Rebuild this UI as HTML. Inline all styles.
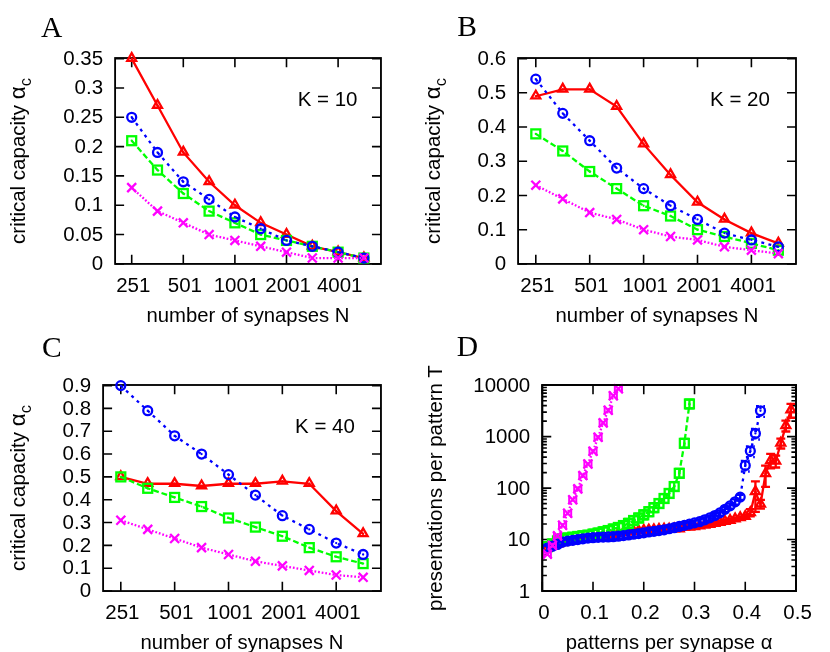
<!DOCTYPE html>
<html><head><meta charset="utf-8"><title>Figure</title>
<style>html,body{margin:0;padding:0;background:#fff}svg{display:block}</style></head>
<body><svg width="830" height="652" viewBox="0 0 830 652">
<rect x="0" y="0" width="830" height="652" fill="#fff"/>
<g opacity="0.999">
<rect x="115.10" y="58.03" width="265.86" height="205.90" fill="none" stroke="#000" stroke-width="1.85"/>
<path d="M131.70 263.93L131.70 254.73M131.70 58.03L131.70 67.23M183.30 263.93L183.30 254.73M183.30 58.03L183.30 67.23M234.90 263.93L234.90 254.73M234.90 58.03L234.90 67.23M286.50 263.93L286.50 254.73M286.50 58.03L286.50 67.23M338.10 263.93L338.10 254.73M338.10 58.03L338.10 67.23M115.10 263.90L124.10 263.90M380.96 263.90L371.96 263.90M115.10 234.57L124.10 234.57M380.96 234.57L371.96 234.57M115.10 205.24L124.10 205.24M380.96 205.24L371.96 205.24M115.10 175.91L124.10 175.91M380.96 175.91L371.96 175.91M115.10 146.59L124.10 146.59M380.96 146.59L371.96 146.59M115.10 117.26L124.10 117.26M380.96 117.26L371.96 117.26M115.10 87.93L124.10 87.93M380.96 87.93L371.96 87.93M115.10 58.60L124.10 58.60M380.96 58.60L371.96 58.60" stroke="#000" stroke-width="1.6" fill="none"/>
<path d="M131.70 58.60L157.50 105.53L183.30 152.45L209.10 181.78L234.90 205.24L260.70 222.84L286.50 234.57L312.30 246.30L338.10 252.17L363.90 258.03" stroke="#ff0000" stroke-width="2.3" fill="none" stroke-linejoin="miter"/>
<path d="M131.70 53.06L127.23 60.83L136.17 60.83Z" stroke="#ff0000" stroke-width="2.3" fill="none" stroke-linejoin="miter"/><circle cx="131.70" cy="58.60" r="1.15" fill="#ff0000"/>
<path d="M157.50 99.98L153.03 107.76L161.97 107.76Z" stroke="#ff0000" stroke-width="2.3" fill="none" stroke-linejoin="miter"/><circle cx="157.50" cy="105.53" r="1.15" fill="#ff0000"/>
<path d="M183.30 146.91L178.83 154.69L187.77 154.69Z" stroke="#ff0000" stroke-width="2.3" fill="none" stroke-linejoin="miter"/><circle cx="183.30" cy="152.45" r="1.15" fill="#ff0000"/>
<path d="M209.10 176.24L204.63 184.01L213.57 184.01Z" stroke="#ff0000" stroke-width="2.3" fill="none" stroke-linejoin="miter"/><circle cx="209.10" cy="181.78" r="1.15" fill="#ff0000"/>
<path d="M234.90 199.70L230.43 207.48L239.37 207.48Z" stroke="#ff0000" stroke-width="2.3" fill="none" stroke-linejoin="miter"/><circle cx="234.90" cy="205.24" r="1.15" fill="#ff0000"/>
<path d="M260.70 217.30L256.23 225.07L265.17 225.07Z" stroke="#ff0000" stroke-width="2.3" fill="none" stroke-linejoin="miter"/><circle cx="260.70" cy="222.84" r="1.15" fill="#ff0000"/>
<path d="M286.50 229.03L282.03 236.81L290.97 236.81Z" stroke="#ff0000" stroke-width="2.3" fill="none" stroke-linejoin="miter"/><circle cx="286.50" cy="234.57" r="1.15" fill="#ff0000"/>
<path d="M312.30 240.76L307.83 248.54L316.77 248.54Z" stroke="#ff0000" stroke-width="2.3" fill="none" stroke-linejoin="miter"/><circle cx="312.30" cy="246.30" r="1.15" fill="#ff0000"/>
<path d="M338.10 246.63L333.63 254.40L342.57 254.40Z" stroke="#ff0000" stroke-width="2.3" fill="none" stroke-linejoin="miter"/><circle cx="338.10" cy="252.17" r="1.15" fill="#ff0000"/>
<path d="M363.90 252.49L359.43 260.27L368.37 260.27Z" stroke="#ff0000" stroke-width="2.3" fill="none" stroke-linejoin="miter"/><circle cx="363.90" cy="258.03" r="1.15" fill="#ff0000"/>
<path d="M131.70 140.72L157.50 170.05L183.30 193.51L209.10 211.11L234.90 222.84L260.70 234.57L286.50 240.44L312.30 246.30L338.10 252.17L363.90 258.03" stroke="#00ff00" stroke-width="2.3" fill="none" stroke-dasharray="5.84 2.92" stroke-linejoin="miter"/>
<rect x="127.23" y="136.25" width="8.94" height="8.94" stroke="#00ff00" stroke-width="2.3" fill="none"/><circle cx="131.70" cy="140.72" r="1.15" fill="#00ff00"/>
<rect x="153.03" y="165.58" width="8.94" height="8.94" stroke="#00ff00" stroke-width="2.3" fill="none"/><circle cx="157.50" cy="170.05" r="1.15" fill="#00ff00"/>
<rect x="178.83" y="189.04" width="8.94" height="8.94" stroke="#00ff00" stroke-width="2.3" fill="none"/><circle cx="183.30" cy="193.51" r="1.15" fill="#00ff00"/>
<rect x="204.63" y="206.64" width="8.94" height="8.94" stroke="#00ff00" stroke-width="2.3" fill="none"/><circle cx="209.10" cy="211.11" r="1.15" fill="#00ff00"/>
<rect x="230.43" y="218.37" width="8.94" height="8.94" stroke="#00ff00" stroke-width="2.3" fill="none"/><circle cx="234.90" cy="222.84" r="1.15" fill="#00ff00"/>
<rect x="256.23" y="230.10" width="8.94" height="8.94" stroke="#00ff00" stroke-width="2.3" fill="none"/><circle cx="260.70" cy="234.57" r="1.15" fill="#00ff00"/>
<rect x="282.03" y="235.97" width="8.94" height="8.94" stroke="#00ff00" stroke-width="2.3" fill="none"/><circle cx="286.50" cy="240.44" r="1.15" fill="#00ff00"/>
<rect x="307.83" y="241.83" width="8.94" height="8.94" stroke="#00ff00" stroke-width="2.3" fill="none"/><circle cx="312.30" cy="246.30" r="1.15" fill="#00ff00"/>
<rect x="333.63" y="247.70" width="8.94" height="8.94" stroke="#00ff00" stroke-width="2.3" fill="none"/><circle cx="338.10" cy="252.17" r="1.15" fill="#00ff00"/>
<rect x="359.43" y="253.56" width="8.94" height="8.94" stroke="#00ff00" stroke-width="2.3" fill="none"/><circle cx="363.90" cy="258.03" r="1.15" fill="#00ff00"/>
<path d="M131.70 117.26L157.50 152.45L183.30 181.78L209.10 199.38L234.90 216.97L260.70 228.71L286.50 240.44L312.30 246.30L338.10 252.17L363.90 258.03" stroke="#0000ff" stroke-width="2.3" fill="none" stroke-dasharray="2.92 4.38" stroke-linejoin="miter"/>
<circle cx="131.70" cy="117.26" r="4.47" stroke="#0000ff" stroke-width="2.3" fill="none"/><circle cx="131.70" cy="117.26" r="1.15" fill="#0000ff"/>
<circle cx="157.50" cy="152.45" r="4.47" stroke="#0000ff" stroke-width="2.3" fill="none"/><circle cx="157.50" cy="152.45" r="1.15" fill="#0000ff"/>
<circle cx="183.30" cy="181.78" r="4.47" stroke="#0000ff" stroke-width="2.3" fill="none"/><circle cx="183.30" cy="181.78" r="1.15" fill="#0000ff"/>
<circle cx="209.10" cy="199.38" r="4.47" stroke="#0000ff" stroke-width="2.3" fill="none"/><circle cx="209.10" cy="199.38" r="1.15" fill="#0000ff"/>
<circle cx="234.90" cy="216.97" r="4.47" stroke="#0000ff" stroke-width="2.3" fill="none"/><circle cx="234.90" cy="216.97" r="1.15" fill="#0000ff"/>
<circle cx="260.70" cy="228.71" r="4.47" stroke="#0000ff" stroke-width="2.3" fill="none"/><circle cx="260.70" cy="228.71" r="1.15" fill="#0000ff"/>
<circle cx="286.50" cy="240.44" r="4.47" stroke="#0000ff" stroke-width="2.3" fill="none"/><circle cx="286.50" cy="240.44" r="1.15" fill="#0000ff"/>
<circle cx="312.30" cy="246.30" r="4.47" stroke="#0000ff" stroke-width="2.3" fill="none"/><circle cx="312.30" cy="246.30" r="1.15" fill="#0000ff"/>
<circle cx="338.10" cy="252.17" r="4.47" stroke="#0000ff" stroke-width="2.3" fill="none"/><circle cx="338.10" cy="252.17" r="1.15" fill="#0000ff"/>
<circle cx="363.90" cy="258.03" r="4.47" stroke="#0000ff" stroke-width="2.3" fill="none"/><circle cx="363.90" cy="258.03" r="1.15" fill="#0000ff"/>
<path d="M131.70 187.65L157.50 211.11L183.30 222.84L209.10 234.57L234.90 240.44L260.70 246.30L286.50 252.17L312.30 258.03L338.10 258.03L363.90 258.03" stroke="#ff00ff" stroke-width="2.3" fill="none" stroke-dasharray="1.75 1.90" stroke-linejoin="miter"/>
<path d="M127.23 183.18L136.17 192.12M127.23 192.12L136.17 183.18" stroke="#ff00ff" stroke-width="2.3" fill="none"/>
<path d="M153.03 206.64L161.97 215.58M153.03 215.58L161.97 206.64" stroke="#ff00ff" stroke-width="2.3" fill="none"/>
<path d="M178.83 218.37L187.77 227.31M178.83 227.31L187.77 218.37" stroke="#ff00ff" stroke-width="2.3" fill="none"/>
<path d="M204.63 230.10L213.57 239.04M204.63 239.04L213.57 230.10" stroke="#ff00ff" stroke-width="2.3" fill="none"/>
<path d="M230.43 235.97L239.37 244.91M230.43 244.91L239.37 235.97" stroke="#ff00ff" stroke-width="2.3" fill="none"/>
<path d="M256.23 241.83L265.17 250.77M256.23 250.77L265.17 241.83" stroke="#ff00ff" stroke-width="2.3" fill="none"/>
<path d="M282.03 247.70L290.97 256.64M282.03 256.64L290.97 247.70" stroke="#ff00ff" stroke-width="2.3" fill="none"/>
<path d="M307.83 253.56L316.77 262.50M307.83 262.50L316.77 253.56" stroke="#ff00ff" stroke-width="2.3" fill="none"/>
<path d="M333.63 253.56L342.57 262.50M333.63 262.50L342.57 253.56" stroke="#ff00ff" stroke-width="2.3" fill="none"/>
<path d="M359.43 253.56L368.37 262.50M359.43 262.50L368.37 253.56" stroke="#ff00ff" stroke-width="2.3" fill="none"/>
<text x="133.30" y="291.53" text-anchor="middle" font-family="Liberation Sans, sans-serif" font-size="20.5" fill="#000">251</text>
<text x="184.90" y="291.53" text-anchor="middle" font-family="Liberation Sans, sans-serif" font-size="20.5" fill="#000">501</text>
<text x="236.50" y="291.53" text-anchor="middle" font-family="Liberation Sans, sans-serif" font-size="20.5" fill="#000">1001</text>
<text x="288.10" y="291.53" text-anchor="middle" font-family="Liberation Sans, sans-serif" font-size="20.5" fill="#000">2001</text>
<text x="339.70" y="291.53" text-anchor="middle" font-family="Liberation Sans, sans-serif" font-size="20.5" fill="#000">4001</text>
<text x="103.10" y="270.10" text-anchor="end" font-family="Liberation Sans, sans-serif" font-size="20.5" fill="#000">0</text>
<text x="103.10" y="240.77" text-anchor="end" font-family="Liberation Sans, sans-serif" font-size="20.5" fill="#000">0.05</text>
<text x="103.10" y="211.44" text-anchor="end" font-family="Liberation Sans, sans-serif" font-size="20.5" fill="#000">0.1</text>
<text x="103.10" y="182.11" text-anchor="end" font-family="Liberation Sans, sans-serif" font-size="20.5" fill="#000">0.15</text>
<text x="103.10" y="152.79" text-anchor="end" font-family="Liberation Sans, sans-serif" font-size="20.5" fill="#000">0.2</text>
<text x="103.10" y="123.46" text-anchor="end" font-family="Liberation Sans, sans-serif" font-size="20.5" fill="#000">0.25</text>
<text x="103.10" y="94.13" text-anchor="end" font-family="Liberation Sans, sans-serif" font-size="20.5" fill="#000">0.3</text>
<text x="103.10" y="64.80" text-anchor="end" font-family="Liberation Sans, sans-serif" font-size="20.5" fill="#000">0.35</text>
<text x="248.03" y="321.93" text-anchor="middle" font-family="Liberation Sans, sans-serif" font-size="20.3" fill="#000">number of synapses N</text>
<text transform="translate(24.80 160.98) rotate(-90)" text-anchor="middle" font-family="Liberation Sans, sans-serif" font-size="20.5" fill="#000">critical capacity <tspan font-size="22.5">&#945;</tspan><tspan font-size="16.4" dy="6.4">c</tspan></text>
<text x="327.60" y="106.00" text-anchor="middle" font-family="Liberation Sans, sans-serif" font-size="20.5" fill="#000">K = 10</text>
<text x="41.00" y="36.50" text-anchor="start" font-family="Liberation Serif, sans-serif" font-size="29.5" fill="#000">A</text>
<rect x="518.08" y="58.03" width="277.91" height="205.90" fill="none" stroke="#000" stroke-width="1.85"/>
<path d="M535.80 263.93L535.80 254.73M535.80 58.03L535.80 67.23M589.70 263.93L589.70 254.73M589.70 58.03L589.70 67.23M643.60 263.93L643.60 254.73M643.60 58.03L643.60 67.23M697.50 263.93L697.50 254.73M697.50 58.03L697.50 67.23M751.40 263.93L751.40 254.73M751.40 58.03L751.40 67.23M518.08 263.90L527.08 263.90M795.99 263.90L786.99 263.90M518.08 229.68L527.08 229.68M795.99 229.68L786.99 229.68M518.08 195.47L527.08 195.47M795.99 195.47L786.99 195.47M518.08 161.25L527.08 161.25M795.99 161.25L786.99 161.25M518.08 127.03L527.08 127.03M795.99 127.03L786.99 127.03M518.08 92.82L527.08 92.82M795.99 92.82L786.99 92.82M518.08 58.60L527.08 58.60M795.99 58.60L786.99 58.60" stroke="#000" stroke-width="1.6" fill="none"/>
<path d="M535.80 96.24L562.75 89.39L589.70 89.39L616.65 106.50L643.60 144.14L670.55 174.94L697.50 202.31L724.45 219.42L751.40 233.10L778.35 243.37" stroke="#ff0000" stroke-width="2.3" fill="none" stroke-linejoin="miter"/>
<path d="M535.80 90.70L531.33 98.47L540.27 98.47Z" stroke="#ff0000" stroke-width="2.3" fill="none" stroke-linejoin="miter"/><circle cx="535.80" cy="96.24" r="1.15" fill="#ff0000"/>
<path d="M562.75 83.85L558.28 91.63L567.22 91.63Z" stroke="#ff0000" stroke-width="2.3" fill="none" stroke-linejoin="miter"/><circle cx="562.75" cy="89.39" r="1.15" fill="#ff0000"/>
<path d="M589.70 83.85L585.23 91.63L594.17 91.63Z" stroke="#ff0000" stroke-width="2.3" fill="none" stroke-linejoin="miter"/><circle cx="589.70" cy="89.39" r="1.15" fill="#ff0000"/>
<path d="M616.65 100.96L612.18 108.74L621.12 108.74Z" stroke="#ff0000" stroke-width="2.3" fill="none" stroke-linejoin="miter"/><circle cx="616.65" cy="106.50" r="1.15" fill="#ff0000"/>
<path d="M643.60 138.60L639.13 146.38L648.07 146.38Z" stroke="#ff0000" stroke-width="2.3" fill="none" stroke-linejoin="miter"/><circle cx="643.60" cy="144.14" r="1.15" fill="#ff0000"/>
<path d="M670.55 169.39L666.08 177.17L675.02 177.17Z" stroke="#ff0000" stroke-width="2.3" fill="none" stroke-linejoin="miter"/><circle cx="670.55" cy="174.94" r="1.15" fill="#ff0000"/>
<path d="M697.50 196.77L693.03 204.55L701.97 204.55Z" stroke="#ff0000" stroke-width="2.3" fill="none" stroke-linejoin="miter"/><circle cx="697.50" cy="202.31" r="1.15" fill="#ff0000"/>
<path d="M724.45 213.88L719.98 221.65L728.92 221.65Z" stroke="#ff0000" stroke-width="2.3" fill="none" stroke-linejoin="miter"/><circle cx="724.45" cy="219.42" r="1.15" fill="#ff0000"/>
<path d="M751.40 227.56L746.93 235.34L755.87 235.34Z" stroke="#ff0000" stroke-width="2.3" fill="none" stroke-linejoin="miter"/><circle cx="751.40" cy="233.10" r="1.15" fill="#ff0000"/>
<path d="M778.35 237.83L773.88 245.60L782.82 245.60Z" stroke="#ff0000" stroke-width="2.3" fill="none" stroke-linejoin="miter"/><circle cx="778.35" cy="243.37" r="1.15" fill="#ff0000"/>
<path d="M535.80 133.88L562.75 150.98L589.70 171.51L616.65 188.62L643.60 205.73L670.55 216.00L697.50 229.68L724.45 236.53L751.40 243.37L778.35 250.21" stroke="#00ff00" stroke-width="2.3" fill="none" stroke-dasharray="5.84 2.92" stroke-linejoin="miter"/>
<rect x="531.33" y="129.41" width="8.94" height="8.94" stroke="#00ff00" stroke-width="2.3" fill="none"/><circle cx="535.80" cy="133.88" r="1.15" fill="#00ff00"/>
<rect x="558.28" y="146.51" width="8.94" height="8.94" stroke="#00ff00" stroke-width="2.3" fill="none"/><circle cx="562.75" cy="150.98" r="1.15" fill="#00ff00"/>
<rect x="585.23" y="167.04" width="8.94" height="8.94" stroke="#00ff00" stroke-width="2.3" fill="none"/><circle cx="589.70" cy="171.51" r="1.15" fill="#00ff00"/>
<rect x="612.18" y="184.15" width="8.94" height="8.94" stroke="#00ff00" stroke-width="2.3" fill="none"/><circle cx="616.65" cy="188.62" r="1.15" fill="#00ff00"/>
<rect x="639.13" y="201.26" width="8.94" height="8.94" stroke="#00ff00" stroke-width="2.3" fill="none"/><circle cx="643.60" cy="205.73" r="1.15" fill="#00ff00"/>
<rect x="666.08" y="211.53" width="8.94" height="8.94" stroke="#00ff00" stroke-width="2.3" fill="none"/><circle cx="670.55" cy="216.00" r="1.15" fill="#00ff00"/>
<rect x="693.03" y="225.21" width="8.94" height="8.94" stroke="#00ff00" stroke-width="2.3" fill="none"/><circle cx="697.50" cy="229.68" r="1.15" fill="#00ff00"/>
<rect x="719.98" y="232.06" width="8.94" height="8.94" stroke="#00ff00" stroke-width="2.3" fill="none"/><circle cx="724.45" cy="236.53" r="1.15" fill="#00ff00"/>
<rect x="746.93" y="238.90" width="8.94" height="8.94" stroke="#00ff00" stroke-width="2.3" fill="none"/><circle cx="751.40" cy="243.37" r="1.15" fill="#00ff00"/>
<rect x="773.88" y="245.74" width="8.94" height="8.94" stroke="#00ff00" stroke-width="2.3" fill="none"/><circle cx="778.35" cy="250.21" r="1.15" fill="#00ff00"/>
<path d="M535.80 79.13L562.75 113.35L589.70 140.72L616.65 168.09L643.60 188.62L670.55 205.73L697.50 219.42L724.45 233.10L751.40 239.95L778.35 246.79" stroke="#0000ff" stroke-width="2.3" fill="none" stroke-dasharray="2.92 4.38" stroke-linejoin="miter"/>
<circle cx="535.80" cy="79.13" r="4.47" stroke="#0000ff" stroke-width="2.3" fill="none"/><circle cx="535.80" cy="79.13" r="1.15" fill="#0000ff"/>
<circle cx="562.75" cy="113.35" r="4.47" stroke="#0000ff" stroke-width="2.3" fill="none"/><circle cx="562.75" cy="113.35" r="1.15" fill="#0000ff"/>
<circle cx="589.70" cy="140.72" r="4.47" stroke="#0000ff" stroke-width="2.3" fill="none"/><circle cx="589.70" cy="140.72" r="1.15" fill="#0000ff"/>
<circle cx="616.65" cy="168.09" r="4.47" stroke="#0000ff" stroke-width="2.3" fill="none"/><circle cx="616.65" cy="168.09" r="1.15" fill="#0000ff"/>
<circle cx="643.60" cy="188.62" r="4.47" stroke="#0000ff" stroke-width="2.3" fill="none"/><circle cx="643.60" cy="188.62" r="1.15" fill="#0000ff"/>
<circle cx="670.55" cy="205.73" r="4.47" stroke="#0000ff" stroke-width="2.3" fill="none"/><circle cx="670.55" cy="205.73" r="1.15" fill="#0000ff"/>
<circle cx="697.50" cy="219.42" r="4.47" stroke="#0000ff" stroke-width="2.3" fill="none"/><circle cx="697.50" cy="219.42" r="1.15" fill="#0000ff"/>
<circle cx="724.45" cy="233.10" r="4.47" stroke="#0000ff" stroke-width="2.3" fill="none"/><circle cx="724.45" cy="233.10" r="1.15" fill="#0000ff"/>
<circle cx="751.40" cy="239.95" r="4.47" stroke="#0000ff" stroke-width="2.3" fill="none"/><circle cx="751.40" cy="239.95" r="1.15" fill="#0000ff"/>
<circle cx="778.35" cy="246.79" r="4.47" stroke="#0000ff" stroke-width="2.3" fill="none"/><circle cx="778.35" cy="246.79" r="1.15" fill="#0000ff"/>
<path d="M535.80 185.20L562.75 198.89L589.70 212.57L616.65 219.42L643.60 229.68L670.55 236.53L697.50 239.95L724.45 246.79L751.40 250.21L778.35 253.63" stroke="#ff00ff" stroke-width="2.3" fill="none" stroke-dasharray="1.75 1.90" stroke-linejoin="miter"/>
<path d="M531.33 180.73L540.27 189.67M531.33 189.67L540.27 180.73" stroke="#ff00ff" stroke-width="2.3" fill="none"/>
<path d="M558.28 194.42L567.22 203.36M558.28 203.36L567.22 194.42" stroke="#ff00ff" stroke-width="2.3" fill="none"/>
<path d="M585.23 208.10L594.17 217.04M585.23 217.04L594.17 208.10" stroke="#ff00ff" stroke-width="2.3" fill="none"/>
<path d="M612.18 214.95L621.12 223.89M612.18 223.89L621.12 214.95" stroke="#ff00ff" stroke-width="2.3" fill="none"/>
<path d="M639.13 225.21L648.07 234.15M639.13 234.15L648.07 225.21" stroke="#ff00ff" stroke-width="2.3" fill="none"/>
<path d="M666.08 232.06L675.02 241.00M666.08 241.00L675.02 232.06" stroke="#ff00ff" stroke-width="2.3" fill="none"/>
<path d="M693.03 235.48L701.97 244.42M693.03 244.42L701.97 235.48" stroke="#ff00ff" stroke-width="2.3" fill="none"/>
<path d="M719.98 242.32L728.92 251.26M719.98 251.26L728.92 242.32" stroke="#ff00ff" stroke-width="2.3" fill="none"/>
<path d="M746.93 245.74L755.87 254.68M746.93 254.68L755.87 245.74" stroke="#ff00ff" stroke-width="2.3" fill="none"/>
<path d="M773.88 249.16L782.82 258.11M773.88 258.11L782.82 249.16" stroke="#ff00ff" stroke-width="2.3" fill="none"/>
<text x="537.40" y="291.53" text-anchor="middle" font-family="Liberation Sans, sans-serif" font-size="20.5" fill="#000">251</text>
<text x="591.30" y="291.53" text-anchor="middle" font-family="Liberation Sans, sans-serif" font-size="20.5" fill="#000">501</text>
<text x="645.20" y="291.53" text-anchor="middle" font-family="Liberation Sans, sans-serif" font-size="20.5" fill="#000">1001</text>
<text x="699.10" y="291.53" text-anchor="middle" font-family="Liberation Sans, sans-serif" font-size="20.5" fill="#000">2001</text>
<text x="753.00" y="291.53" text-anchor="middle" font-family="Liberation Sans, sans-serif" font-size="20.5" fill="#000">4001</text>
<text x="506.08" y="270.10" text-anchor="end" font-family="Liberation Sans, sans-serif" font-size="20.5" fill="#000">0</text>
<text x="506.08" y="235.88" text-anchor="end" font-family="Liberation Sans, sans-serif" font-size="20.5" fill="#000">0.1</text>
<text x="506.08" y="201.67" text-anchor="end" font-family="Liberation Sans, sans-serif" font-size="20.5" fill="#000">0.2</text>
<text x="506.08" y="167.45" text-anchor="end" font-family="Liberation Sans, sans-serif" font-size="20.5" fill="#000">0.3</text>
<text x="506.08" y="133.23" text-anchor="end" font-family="Liberation Sans, sans-serif" font-size="20.5" fill="#000">0.4</text>
<text x="506.08" y="99.02" text-anchor="end" font-family="Liberation Sans, sans-serif" font-size="20.5" fill="#000">0.5</text>
<text x="506.08" y="64.80" text-anchor="end" font-family="Liberation Sans, sans-serif" font-size="20.5" fill="#000">0.6</text>
<text x="657.04" y="321.93" text-anchor="middle" font-family="Liberation Sans, sans-serif" font-size="20.3" fill="#000">number of synapses N</text>
<text transform="translate(440.00 160.98) rotate(-90)" text-anchor="middle" font-family="Liberation Sans, sans-serif" font-size="20.5" fill="#000">critical capacity <tspan font-size="22.5">&#945;</tspan><tspan font-size="16.4" dy="6.4">c</tspan></text>
<text x="740.00" y="106.00" text-anchor="middle" font-family="Liberation Sans, sans-serif" font-size="20.5" fill="#000">K = 20</text>
<text x="457.30" y="36.20" text-anchor="start" font-family="Liberation Serif, sans-serif" font-size="29.5" fill="#000">B</text>
<rect x="103.10" y="385.00" width="277.86" height="206.05" fill="none" stroke="#000" stroke-width="1.85"/>
<path d="M120.80 591.05L120.80 581.85M120.80 385.00L120.80 394.20M174.65 591.05L174.65 581.85M174.65 385.00L174.65 394.20M228.50 591.05L228.50 581.85M228.50 385.00L228.50 394.20M282.35 591.05L282.35 581.85M282.35 385.00L282.35 394.20M336.20 591.05L336.20 581.85M336.20 385.00L336.20 394.20M103.10 591.00L112.10 591.00M380.96 591.00L371.96 591.00M103.10 568.18L112.10 568.18M380.96 568.18L371.96 568.18M103.10 545.36L112.10 545.36M380.96 545.36L371.96 545.36M103.10 522.53L112.10 522.53M380.96 522.53L371.96 522.53M103.10 499.71L112.10 499.71M380.96 499.71L371.96 499.71M103.10 476.89L112.10 476.89M380.96 476.89L371.96 476.89M103.10 454.07L112.10 454.07M380.96 454.07L371.96 454.07M103.10 431.24L112.10 431.24M380.96 431.24L371.96 431.24M103.10 408.42L112.10 408.42M380.96 408.42L371.96 408.42M103.10 385.60L112.10 385.60M380.96 385.60L371.96 385.60" stroke="#000" stroke-width="1.6" fill="none"/>
<path d="M120.80 476.89L147.72 483.74L174.65 483.74L201.57 486.02L228.50 483.74L255.43 483.74L282.35 481.45L309.27 483.74L336.20 511.12L363.12 533.94" stroke="#ff0000" stroke-width="2.3" fill="none" stroke-linejoin="miter"/>
<path d="M120.80 471.35L116.33 479.12L125.27 479.12Z" stroke="#ff0000" stroke-width="2.3" fill="none" stroke-linejoin="miter"/><circle cx="120.80" cy="476.89" r="1.15" fill="#ff0000"/>
<path d="M147.72 478.19L143.25 485.97L152.19 485.97Z" stroke="#ff0000" stroke-width="2.3" fill="none" stroke-linejoin="miter"/><circle cx="147.72" cy="483.74" r="1.15" fill="#ff0000"/>
<path d="M174.65 478.19L170.18 485.97L179.12 485.97Z" stroke="#ff0000" stroke-width="2.3" fill="none" stroke-linejoin="miter"/><circle cx="174.65" cy="483.74" r="1.15" fill="#ff0000"/>
<path d="M201.57 480.47L197.10 488.25L206.04 488.25Z" stroke="#ff0000" stroke-width="2.3" fill="none" stroke-linejoin="miter"/><circle cx="201.57" cy="486.02" r="1.15" fill="#ff0000"/>
<path d="M228.50 478.19L224.03 485.97L232.97 485.97Z" stroke="#ff0000" stroke-width="2.3" fill="none" stroke-linejoin="miter"/><circle cx="228.50" cy="483.74" r="1.15" fill="#ff0000"/>
<path d="M255.43 478.19L250.96 485.97L259.90 485.97Z" stroke="#ff0000" stroke-width="2.3" fill="none" stroke-linejoin="miter"/><circle cx="255.43" cy="483.74" r="1.15" fill="#ff0000"/>
<path d="M282.35 475.91L277.88 483.69L286.82 483.69Z" stroke="#ff0000" stroke-width="2.3" fill="none" stroke-linejoin="miter"/><circle cx="282.35" cy="481.45" r="1.15" fill="#ff0000"/>
<path d="M309.27 478.19L304.80 485.97L313.75 485.97Z" stroke="#ff0000" stroke-width="2.3" fill="none" stroke-linejoin="miter"/><circle cx="309.27" cy="483.74" r="1.15" fill="#ff0000"/>
<path d="M336.20 505.58L331.73 513.36L340.67 513.36Z" stroke="#ff0000" stroke-width="2.3" fill="none" stroke-linejoin="miter"/><circle cx="336.20" cy="511.12" r="1.15" fill="#ff0000"/>
<path d="M363.12 528.40L358.65 536.18L367.60 536.18Z" stroke="#ff0000" stroke-width="2.3" fill="none" stroke-linejoin="miter"/><circle cx="363.12" cy="533.94" r="1.15" fill="#ff0000"/>
<path d="M120.80 476.89L147.72 488.30L174.65 497.43L201.57 506.56L228.50 517.97L255.43 527.10L282.35 536.23L309.27 547.64L336.20 556.77L363.12 563.61" stroke="#00ff00" stroke-width="2.3" fill="none" stroke-dasharray="5.84 2.92" stroke-linejoin="miter"/>
<rect x="116.33" y="472.42" width="8.94" height="8.94" stroke="#00ff00" stroke-width="2.3" fill="none"/><circle cx="120.80" cy="476.89" r="1.15" fill="#00ff00"/>
<rect x="143.25" y="483.83" width="8.94" height="8.94" stroke="#00ff00" stroke-width="2.3" fill="none"/><circle cx="147.72" cy="488.30" r="1.15" fill="#00ff00"/>
<rect x="170.18" y="492.96" width="8.94" height="8.94" stroke="#00ff00" stroke-width="2.3" fill="none"/><circle cx="174.65" cy="497.43" r="1.15" fill="#00ff00"/>
<rect x="197.10" y="502.09" width="8.94" height="8.94" stroke="#00ff00" stroke-width="2.3" fill="none"/><circle cx="201.57" cy="506.56" r="1.15" fill="#00ff00"/>
<rect x="224.03" y="513.50" width="8.94" height="8.94" stroke="#00ff00" stroke-width="2.3" fill="none"/><circle cx="228.50" cy="517.97" r="1.15" fill="#00ff00"/>
<rect x="250.96" y="522.63" width="8.94" height="8.94" stroke="#00ff00" stroke-width="2.3" fill="none"/><circle cx="255.43" cy="527.10" r="1.15" fill="#00ff00"/>
<rect x="277.88" y="531.76" width="8.94" height="8.94" stroke="#00ff00" stroke-width="2.3" fill="none"/><circle cx="282.35" cy="536.23" r="1.15" fill="#00ff00"/>
<rect x="304.80" y="543.17" width="8.94" height="8.94" stroke="#00ff00" stroke-width="2.3" fill="none"/><circle cx="309.27" cy="547.64" r="1.15" fill="#00ff00"/>
<rect x="331.73" y="552.30" width="8.94" height="8.94" stroke="#00ff00" stroke-width="2.3" fill="none"/><circle cx="336.20" cy="556.77" r="1.15" fill="#00ff00"/>
<rect x="358.65" y="559.14" width="8.94" height="8.94" stroke="#00ff00" stroke-width="2.3" fill="none"/><circle cx="363.12" cy="563.61" r="1.15" fill="#00ff00"/>
<path d="M120.80 385.60L147.72 410.70L174.65 435.81L201.57 454.07L228.50 474.61L255.43 495.15L282.35 515.69L309.27 529.38L336.20 543.07L363.12 554.48" stroke="#0000ff" stroke-width="2.3" fill="none" stroke-dasharray="2.92 4.38" stroke-linejoin="miter"/>
<circle cx="120.80" cy="385.60" r="4.47" stroke="#0000ff" stroke-width="2.3" fill="none"/><circle cx="120.80" cy="385.60" r="1.15" fill="#0000ff"/>
<circle cx="147.72" cy="410.70" r="4.47" stroke="#0000ff" stroke-width="2.3" fill="none"/><circle cx="147.72" cy="410.70" r="1.15" fill="#0000ff"/>
<circle cx="174.65" cy="435.81" r="4.47" stroke="#0000ff" stroke-width="2.3" fill="none"/><circle cx="174.65" cy="435.81" r="1.15" fill="#0000ff"/>
<circle cx="201.57" cy="454.07" r="4.47" stroke="#0000ff" stroke-width="2.3" fill="none"/><circle cx="201.57" cy="454.07" r="1.15" fill="#0000ff"/>
<circle cx="228.50" cy="474.61" r="4.47" stroke="#0000ff" stroke-width="2.3" fill="none"/><circle cx="228.50" cy="474.61" r="1.15" fill="#0000ff"/>
<circle cx="255.43" cy="495.15" r="4.47" stroke="#0000ff" stroke-width="2.3" fill="none"/><circle cx="255.43" cy="495.15" r="1.15" fill="#0000ff"/>
<circle cx="282.35" cy="515.69" r="4.47" stroke="#0000ff" stroke-width="2.3" fill="none"/><circle cx="282.35" cy="515.69" r="1.15" fill="#0000ff"/>
<circle cx="309.27" cy="529.38" r="4.47" stroke="#0000ff" stroke-width="2.3" fill="none"/><circle cx="309.27" cy="529.38" r="1.15" fill="#0000ff"/>
<circle cx="336.20" cy="543.07" r="4.47" stroke="#0000ff" stroke-width="2.3" fill="none"/><circle cx="336.20" cy="543.07" r="1.15" fill="#0000ff"/>
<circle cx="363.12" cy="554.48" r="4.47" stroke="#0000ff" stroke-width="2.3" fill="none"/><circle cx="363.12" cy="554.48" r="1.15" fill="#0000ff"/>
<path d="M120.80 520.25L147.72 529.38L174.65 538.51L201.57 547.64L228.50 554.48L255.43 561.33L282.35 565.90L309.27 570.46L336.20 575.02L363.12 577.31" stroke="#ff00ff" stroke-width="2.3" fill="none" stroke-dasharray="1.75 1.90" stroke-linejoin="miter"/>
<path d="M116.33 515.78L125.27 524.72M116.33 524.72L125.27 515.78" stroke="#ff00ff" stroke-width="2.3" fill="none"/>
<path d="M143.25 524.91L152.19 533.85M143.25 533.85L152.19 524.91" stroke="#ff00ff" stroke-width="2.3" fill="none"/>
<path d="M170.18 534.04L179.12 542.98M170.18 542.98L179.12 534.04" stroke="#ff00ff" stroke-width="2.3" fill="none"/>
<path d="M197.10 543.17L206.04 552.11M197.10 552.11L206.04 543.17" stroke="#ff00ff" stroke-width="2.3" fill="none"/>
<path d="M224.03 550.01L232.97 558.95M224.03 558.95L232.97 550.01" stroke="#ff00ff" stroke-width="2.3" fill="none"/>
<path d="M250.96 556.86L259.90 565.80M250.96 565.80L259.90 556.86" stroke="#ff00ff" stroke-width="2.3" fill="none"/>
<path d="M277.88 561.43L286.82 570.37M277.88 570.37L286.82 561.43" stroke="#ff00ff" stroke-width="2.3" fill="none"/>
<path d="M304.80 565.99L313.75 574.93M304.80 574.93L313.75 565.99" stroke="#ff00ff" stroke-width="2.3" fill="none"/>
<path d="M331.73 570.55L340.67 579.49M331.73 579.49L340.67 570.55" stroke="#ff00ff" stroke-width="2.3" fill="none"/>
<path d="M358.65 572.84L367.60 581.78M358.65 581.78L367.60 572.84" stroke="#ff00ff" stroke-width="2.3" fill="none"/>
<text x="122.40" y="618.65" text-anchor="middle" font-family="Liberation Sans, sans-serif" font-size="20.5" fill="#000">251</text>
<text x="176.25" y="618.65" text-anchor="middle" font-family="Liberation Sans, sans-serif" font-size="20.5" fill="#000">501</text>
<text x="230.10" y="618.65" text-anchor="middle" font-family="Liberation Sans, sans-serif" font-size="20.5" fill="#000">1001</text>
<text x="283.95" y="618.65" text-anchor="middle" font-family="Liberation Sans, sans-serif" font-size="20.5" fill="#000">2001</text>
<text x="337.80" y="618.65" text-anchor="middle" font-family="Liberation Sans, sans-serif" font-size="20.5" fill="#000">4001</text>
<text x="91.10" y="597.20" text-anchor="end" font-family="Liberation Sans, sans-serif" font-size="20.5" fill="#000">0</text>
<text x="91.10" y="574.38" text-anchor="end" font-family="Liberation Sans, sans-serif" font-size="20.5" fill="#000">0.1</text>
<text x="91.10" y="551.56" text-anchor="end" font-family="Liberation Sans, sans-serif" font-size="20.5" fill="#000">0.2</text>
<text x="91.10" y="528.73" text-anchor="end" font-family="Liberation Sans, sans-serif" font-size="20.5" fill="#000">0.3</text>
<text x="91.10" y="505.91" text-anchor="end" font-family="Liberation Sans, sans-serif" font-size="20.5" fill="#000">0.4</text>
<text x="91.10" y="483.09" text-anchor="end" font-family="Liberation Sans, sans-serif" font-size="20.5" fill="#000">0.5</text>
<text x="91.10" y="460.27" text-anchor="end" font-family="Liberation Sans, sans-serif" font-size="20.5" fill="#000">0.6</text>
<text x="91.10" y="437.44" text-anchor="end" font-family="Liberation Sans, sans-serif" font-size="20.5" fill="#000">0.7</text>
<text x="91.10" y="414.62" text-anchor="end" font-family="Liberation Sans, sans-serif" font-size="20.5" fill="#000">0.8</text>
<text x="91.10" y="391.80" text-anchor="end" font-family="Liberation Sans, sans-serif" font-size="20.5" fill="#000">0.9</text>
<text x="242.03" y="649.05" text-anchor="middle" font-family="Liberation Sans, sans-serif" font-size="20.3" fill="#000">number of synapses N</text>
<text transform="translate(24.80 488.02) rotate(-90)" text-anchor="middle" font-family="Liberation Sans, sans-serif" font-size="20.5" fill="#000">critical capacity <tspan font-size="22.5">&#945;</tspan><tspan font-size="16.4" dy="6.4">c</tspan></text>
<text x="325.00" y="433.00" text-anchor="middle" font-family="Liberation Sans, sans-serif" font-size="20.5" fill="#000">K = 40</text>
<text x="42.00" y="356.60" text-anchor="start" font-family="Liberation Serif, sans-serif" font-size="29.5" fill="#000">C</text>
<rect x="542.26" y="385.00" width="253.74" height="206.05" fill="none" stroke="#000" stroke-width="1.85"/>
<path d="M542.26 591.05L542.26 581.85M542.26 385.00L542.26 394.20M593.01 591.05L593.01 581.85M593.01 385.00L593.01 394.20M643.76 591.05L643.76 581.85M643.76 385.00L643.76 394.20M694.51 591.05L694.51 581.85M694.51 385.00L694.51 394.20M745.26 591.05L745.26 581.85M745.26 385.00L745.26 394.20M796.01 591.05L796.01 581.85M796.01 385.00L796.01 394.20M542.26 591.00L551.26 591.00M796.00 591.00L787.00 591.00M542.26 575.51L546.86 575.51M796.00 575.51L791.40 575.51M542.26 566.45L546.86 566.45M796.00 566.45L791.40 566.45M542.26 560.02L546.86 560.02M796.00 560.02L791.40 560.02M542.26 555.04L546.86 555.04M796.00 555.04L791.40 555.04M542.26 550.96L546.86 550.96M796.00 550.96L791.40 550.96M542.26 547.52L546.86 547.52M796.00 547.52L791.40 547.52M542.26 544.54L546.86 544.54M796.00 544.54L791.40 544.54M542.26 541.90L546.86 541.90M796.00 541.90L791.40 541.90M542.26 539.55L551.26 539.55M796.00 539.55L787.00 539.55M542.26 524.06L546.86 524.06M796.00 524.06L791.40 524.06M542.26 515.00L546.86 515.00M796.00 515.00L791.40 515.00M542.26 508.57L546.86 508.57M796.00 508.57L791.40 508.57M542.26 503.59L546.86 503.59M796.00 503.59L791.40 503.59M542.26 499.51L546.86 499.51M796.00 499.51L791.40 499.51M542.26 496.07L546.86 496.07M796.00 496.07L791.40 496.07M542.26 493.09L546.86 493.09M796.00 493.09L791.40 493.09M542.26 490.45L546.86 490.45M796.00 490.45L791.40 490.45M542.26 488.10L551.26 488.10M796.00 488.10L787.00 488.10M542.26 472.61L546.86 472.61M796.00 472.61L791.40 472.61M542.26 463.55L546.86 463.55M796.00 463.55L791.40 463.55M542.26 457.12L546.86 457.12M796.00 457.12L791.40 457.12M542.26 452.14L546.86 452.14M796.00 452.14L791.40 452.14M542.26 448.06L546.86 448.06M796.00 448.06L791.40 448.06M542.26 444.62L546.86 444.62M796.00 444.62L791.40 444.62M542.26 441.64L546.86 441.64M796.00 441.64L791.40 441.64M542.26 439.00L546.86 439.00M796.00 439.00L791.40 439.00M542.26 436.65L551.26 436.65M796.00 436.65L787.00 436.65M542.26 421.16L546.86 421.16M796.00 421.16L791.40 421.16M542.26 412.10L546.86 412.10M796.00 412.10L791.40 412.10M542.26 405.67L546.86 405.67M796.00 405.67L791.40 405.67M542.26 400.69L546.86 400.69M796.00 400.69L791.40 400.69M542.26 396.61L546.86 396.61M796.00 396.61L791.40 396.61M542.26 393.17L546.86 393.17M796.00 393.17L791.40 393.17M542.26 390.19L546.86 390.19M796.00 390.19L791.40 390.19M542.26 387.55L546.86 387.55M796.00 387.55L791.40 387.55M542.26 385.20L551.26 385.20M796.00 385.20L787.00 385.20" stroke="#000" stroke-width="1.6" fill="none"/>
<clipPath id="cd"><rect x="536.26" y="384.0" width="265.74" height="208.04999999999995"/></clipPath>
<g>
<path d="M547.34 548.61L552.41 546.50L557.49 544.44L562.56 542.89L567.63 541.87L572.71 540.84L577.78 539.81L582.86 539.04L587.93 538.26L593.01 537.49L598.09 536.72L603.16 536.21L608.24 535.43L613.31 534.66L618.38 533.58L623.46 532.81L628.53 532.30L633.61 531.52L638.68 531.01L643.76 530.49L648.84 530.24L653.91 529.98L658.99 529.72L664.06 529.47L669.13 529.36L674.21 529.21L679.28 529.05L684.36 527.61L689.43 527.36L694.51 526.94L699.59 526.17L704.66 525.40L709.74 524.63L714.81 523.60L719.88 522.57L724.96 521.54L730.03 520.51L735.11 519.23L740.18 517.94L745.26 516.65L750.34 512.80L755.41 491.86L760.49 504.26L765.56 473.85L770.63 460.83L775.71 461.35L780.78 443.34L785.86 425.95L790.93 410.20" stroke="#ff0000" stroke-width="2.3" fill="none" stroke-linejoin="miter"/>
<path d="M547.34 550.15L547.34 547.06M542.87 550.15L551.81 550.15M542.87 547.06L551.81 547.06" stroke="#ff0000" stroke-width="2.3" fill="none"/><path d="M547.34 543.06L542.87 550.84L551.81 550.84Z" stroke="#ff0000" stroke-width="2.3" fill="none" stroke-linejoin="miter"/><circle cx="547.34" cy="548.61" r="1.15" fill="#ff0000"/>
<path d="M552.41 548.04L552.41 544.95M547.94 548.04L556.88 548.04M547.94 544.95L556.88 544.95" stroke="#ff0000" stroke-width="2.3" fill="none"/><path d="M552.41 540.95L547.94 548.73L556.88 548.73Z" stroke="#ff0000" stroke-width="2.3" fill="none" stroke-linejoin="miter"/><circle cx="552.41" cy="546.50" r="1.15" fill="#ff0000"/>
<path d="M557.49 545.98L557.49 542.89M553.01 545.98L561.96 545.98M553.01 542.89L561.96 542.89" stroke="#ff0000" stroke-width="2.3" fill="none"/><path d="M557.49 538.89L553.01 546.67L561.96 546.67Z" stroke="#ff0000" stroke-width="2.3" fill="none" stroke-linejoin="miter"/><circle cx="557.49" cy="544.44" r="1.15" fill="#ff0000"/>
<path d="M562.56 544.44L562.56 541.35M558.09 544.44L567.03 544.44M558.09 541.35L567.03 541.35" stroke="#ff0000" stroke-width="2.3" fill="none"/><path d="M562.56 537.35L558.09 545.13L567.03 545.13Z" stroke="#ff0000" stroke-width="2.3" fill="none" stroke-linejoin="miter"/><circle cx="562.56" cy="542.89" r="1.15" fill="#ff0000"/>
<path d="M567.63 543.41L567.63 540.32M563.16 543.41L572.11 543.41M563.16 540.32L572.11 540.32" stroke="#ff0000" stroke-width="2.3" fill="none"/><path d="M567.63 536.32L563.16 544.10L572.11 544.10Z" stroke="#ff0000" stroke-width="2.3" fill="none" stroke-linejoin="miter"/><circle cx="567.63" cy="541.87" r="1.15" fill="#ff0000"/>
<path d="M572.71 542.38L572.71 539.29M568.24 542.38L577.18 542.38M568.24 539.29L577.18 539.29" stroke="#ff0000" stroke-width="2.3" fill="none"/><path d="M572.71 535.29L568.24 543.07L577.18 543.07Z" stroke="#ff0000" stroke-width="2.3" fill="none" stroke-linejoin="miter"/><circle cx="572.71" cy="540.84" r="1.15" fill="#ff0000"/>
<path d="M577.78 541.35L577.78 538.26M573.31 541.35L582.25 541.35M573.31 538.26L582.25 538.26" stroke="#ff0000" stroke-width="2.3" fill="none"/><path d="M577.78 534.26L573.31 542.04L582.25 542.04Z" stroke="#ff0000" stroke-width="2.3" fill="none" stroke-linejoin="miter"/><circle cx="577.78" cy="539.81" r="1.15" fill="#ff0000"/>
<path d="M582.86 540.58L582.86 537.49M578.39 540.58L587.33 540.58M578.39 537.49L587.33 537.49" stroke="#ff0000" stroke-width="2.3" fill="none"/><path d="M582.86 533.49L578.39 541.27L587.33 541.27Z" stroke="#ff0000" stroke-width="2.3" fill="none" stroke-linejoin="miter"/><circle cx="582.86" cy="539.04" r="1.15" fill="#ff0000"/>
<path d="M587.93 539.81L587.93 536.72M583.46 539.81L592.40 539.81M583.46 536.72L592.40 536.72" stroke="#ff0000" stroke-width="2.3" fill="none"/><path d="M587.93 532.72L583.46 540.50L592.40 540.50Z" stroke="#ff0000" stroke-width="2.3" fill="none" stroke-linejoin="miter"/><circle cx="587.93" cy="538.26" r="1.15" fill="#ff0000"/>
<path d="M593.01 539.04L593.01 535.95M588.54 539.04L597.48 539.04M588.54 535.95L597.48 535.95" stroke="#ff0000" stroke-width="2.3" fill="none"/><path d="M593.01 531.95L588.54 539.73L597.48 539.73Z" stroke="#ff0000" stroke-width="2.3" fill="none" stroke-linejoin="miter"/><circle cx="593.01" cy="537.49" r="1.15" fill="#ff0000"/>
<path d="M598.09 538.26L598.09 535.18M593.62 538.26L602.56 538.26M593.62 535.18L602.56 535.18" stroke="#ff0000" stroke-width="2.3" fill="none"/><path d="M598.09 531.18L593.62 538.96L602.56 538.96Z" stroke="#ff0000" stroke-width="2.3" fill="none" stroke-linejoin="miter"/><circle cx="598.09" cy="536.72" r="1.15" fill="#ff0000"/>
<path d="M603.16 537.75L603.16 534.66M598.69 537.75L607.63 537.75M598.69 534.66L607.63 534.66" stroke="#ff0000" stroke-width="2.3" fill="none"/><path d="M603.16 530.66L598.69 538.44L607.63 538.44Z" stroke="#ff0000" stroke-width="2.3" fill="none" stroke-linejoin="miter"/><circle cx="603.16" cy="536.21" r="1.15" fill="#ff0000"/>
<path d="M608.24 536.98L608.24 533.89M603.76 536.98L612.71 536.98M603.76 533.89L612.71 533.89" stroke="#ff0000" stroke-width="2.3" fill="none"/><path d="M608.24 529.89L603.76 537.67L612.71 537.67Z" stroke="#ff0000" stroke-width="2.3" fill="none" stroke-linejoin="miter"/><circle cx="608.24" cy="535.43" r="1.15" fill="#ff0000"/>
<path d="M613.31 536.21L613.31 533.12M608.84 536.21L617.78 536.21M608.84 533.12L617.78 533.12" stroke="#ff0000" stroke-width="2.3" fill="none"/><path d="M613.31 529.12L608.84 536.90L617.78 536.90Z" stroke="#ff0000" stroke-width="2.3" fill="none" stroke-linejoin="miter"/><circle cx="613.31" cy="534.66" r="1.15" fill="#ff0000"/>
<path d="M618.38 535.13L618.38 532.04M613.91 535.13L622.86 535.13M613.91 532.04L622.86 532.04" stroke="#ff0000" stroke-width="2.3" fill="none"/><path d="M618.38 528.04L613.91 535.82L622.86 535.82Z" stroke="#ff0000" stroke-width="2.3" fill="none" stroke-linejoin="miter"/><circle cx="618.38" cy="533.58" r="1.15" fill="#ff0000"/>
<path d="M623.46 534.35L623.46 531.27M618.99 534.35L627.93 534.35M618.99 531.27L627.93 531.27" stroke="#ff0000" stroke-width="2.3" fill="none"/><path d="M623.46 527.27L618.99 535.05L627.93 535.05Z" stroke="#ff0000" stroke-width="2.3" fill="none" stroke-linejoin="miter"/><circle cx="623.46" cy="532.81" r="1.15" fill="#ff0000"/>
<path d="M628.53 533.84L628.53 530.75M624.06 533.84L633.00 533.84M624.06 530.75L633.00 530.75" stroke="#ff0000" stroke-width="2.3" fill="none"/><path d="M628.53 526.75L624.06 534.53L633.00 534.53Z" stroke="#ff0000" stroke-width="2.3" fill="none" stroke-linejoin="miter"/><circle cx="628.53" cy="532.30" r="1.15" fill="#ff0000"/>
<path d="M633.61 533.07L633.61 529.98M629.14 533.07L638.08 533.07M629.14 529.98L638.08 529.98" stroke="#ff0000" stroke-width="2.3" fill="none"/><path d="M633.61 525.98L629.14 533.76L638.08 533.76Z" stroke="#ff0000" stroke-width="2.3" fill="none" stroke-linejoin="miter"/><circle cx="633.61" cy="531.52" r="1.15" fill="#ff0000"/>
<path d="M638.68 532.55L638.68 529.47M634.21 532.55L643.15 532.55M634.21 529.47L643.15 529.47" stroke="#ff0000" stroke-width="2.3" fill="none"/><path d="M638.68 525.47L634.21 533.24L643.15 533.24Z" stroke="#ff0000" stroke-width="2.3" fill="none" stroke-linejoin="miter"/><circle cx="638.68" cy="531.01" r="1.15" fill="#ff0000"/>
<path d="M643.76 532.04L643.76 528.95M639.29 532.04L648.23 532.04M639.29 528.95L648.23 528.95" stroke="#ff0000" stroke-width="2.3" fill="none"/><path d="M643.76 524.95L639.29 532.73L648.23 532.73Z" stroke="#ff0000" stroke-width="2.3" fill="none" stroke-linejoin="miter"/><circle cx="643.76" cy="530.49" r="1.15" fill="#ff0000"/>
<path d="M648.84 531.78L648.84 528.69M644.37 531.78L653.31 531.78M644.37 528.69L653.31 528.69" stroke="#ff0000" stroke-width="2.3" fill="none"/><path d="M648.84 524.69L644.37 532.47L653.31 532.47Z" stroke="#ff0000" stroke-width="2.3" fill="none" stroke-linejoin="miter"/><circle cx="648.84" cy="530.24" r="1.15" fill="#ff0000"/>
<path d="M653.91 531.52L653.91 528.44M649.44 531.52L658.38 531.52M649.44 528.44L658.38 528.44" stroke="#ff0000" stroke-width="2.3" fill="none"/><path d="M653.91 524.44L649.44 532.22L658.38 532.22Z" stroke="#ff0000" stroke-width="2.3" fill="none" stroke-linejoin="miter"/><circle cx="653.91" cy="529.98" r="1.15" fill="#ff0000"/>
<path d="M658.99 531.27L658.99 528.18M654.51 531.27L663.46 531.27M654.51 528.18L663.46 528.18" stroke="#ff0000" stroke-width="2.3" fill="none"/><path d="M658.99 524.18L654.51 531.96L663.46 531.96Z" stroke="#ff0000" stroke-width="2.3" fill="none" stroke-linejoin="miter"/><circle cx="658.99" cy="529.72" r="1.15" fill="#ff0000"/>
<path d="M664.06 531.01L664.06 527.92M659.59 531.01L668.53 531.01M659.59 527.92L668.53 527.92" stroke="#ff0000" stroke-width="2.3" fill="none"/><path d="M664.06 523.92L659.59 531.70L668.53 531.70Z" stroke="#ff0000" stroke-width="2.3" fill="none" stroke-linejoin="miter"/><circle cx="664.06" cy="529.47" r="1.15" fill="#ff0000"/>
<path d="M669.13 530.91L669.13 527.82M664.66 530.91L673.61 530.91M664.66 527.82L673.61 527.82" stroke="#ff0000" stroke-width="2.3" fill="none"/><path d="M669.13 523.82L664.66 531.60L673.61 531.60Z" stroke="#ff0000" stroke-width="2.3" fill="none" stroke-linejoin="miter"/><circle cx="669.13" cy="529.36" r="1.15" fill="#ff0000"/>
<path d="M674.21 530.75L674.21 527.67M669.74 530.75L678.68 530.75M669.74 527.67L678.68 527.67" stroke="#ff0000" stroke-width="2.3" fill="none"/><path d="M674.21 523.67L669.74 531.44L678.68 531.44Z" stroke="#ff0000" stroke-width="2.3" fill="none" stroke-linejoin="miter"/><circle cx="674.21" cy="529.21" r="1.15" fill="#ff0000"/>
<path d="M679.28 530.60L679.28 527.51M674.81 530.60L683.75 530.60M674.81 527.51L683.75 527.51" stroke="#ff0000" stroke-width="2.3" fill="none"/><path d="M679.28 523.51L674.81 531.29L683.75 531.29Z" stroke="#ff0000" stroke-width="2.3" fill="none" stroke-linejoin="miter"/><circle cx="679.28" cy="529.05" r="1.15" fill="#ff0000"/>
<path d="M684.36 529.16L684.36 526.07M679.89 529.16L688.83 529.16M679.89 526.07L688.83 526.07" stroke="#ff0000" stroke-width="2.3" fill="none"/><path d="M684.36 522.07L679.89 529.85L688.83 529.85Z" stroke="#ff0000" stroke-width="2.3" fill="none" stroke-linejoin="miter"/><circle cx="684.36" cy="527.61" r="1.15" fill="#ff0000"/>
<path d="M689.43 528.90L689.43 525.81M684.96 528.90L693.90 528.90M684.96 525.81L693.90 525.81" stroke="#ff0000" stroke-width="2.3" fill="none"/><path d="M689.43 521.81L684.96 529.59L693.90 529.59Z" stroke="#ff0000" stroke-width="2.3" fill="none" stroke-linejoin="miter"/><circle cx="689.43" cy="527.36" r="1.15" fill="#ff0000"/>
<path d="M694.51 528.49L694.51 525.40M690.04 528.49L698.98 528.49M690.04 525.40L698.98 525.40" stroke="#ff0000" stroke-width="2.3" fill="none"/><path d="M694.51 521.40L690.04 529.18L698.98 529.18Z" stroke="#ff0000" stroke-width="2.3" fill="none" stroke-linejoin="miter"/><circle cx="694.51" cy="526.94" r="1.15" fill="#ff0000"/>
<path d="M699.59 527.72L699.59 524.63M695.12 527.72L704.06 527.72M695.12 524.63L704.06 524.63" stroke="#ff0000" stroke-width="2.3" fill="none"/><path d="M699.59 520.63L695.12 528.41L704.06 528.41Z" stroke="#ff0000" stroke-width="2.3" fill="none" stroke-linejoin="miter"/><circle cx="699.59" cy="526.17" r="1.15" fill="#ff0000"/>
<path d="M704.66 526.94L704.66 523.86M700.19 526.94L709.13 526.94M700.19 523.86L709.13 523.86" stroke="#ff0000" stroke-width="2.3" fill="none"/><path d="M704.66 519.86L700.19 527.64L709.13 527.64Z" stroke="#ff0000" stroke-width="2.3" fill="none" stroke-linejoin="miter"/><circle cx="704.66" cy="525.40" r="1.15" fill="#ff0000"/>
<path d="M709.74 526.17L709.74 523.09M705.26 526.17L714.21 526.17M705.26 523.09L714.21 523.09" stroke="#ff0000" stroke-width="2.3" fill="none"/><path d="M709.74 519.09L705.26 526.86L714.21 526.86Z" stroke="#ff0000" stroke-width="2.3" fill="none" stroke-linejoin="miter"/><circle cx="709.74" cy="524.63" r="1.15" fill="#ff0000"/>
<path d="M714.81 525.14L714.81 522.06M710.34 525.14L719.28 525.14M710.34 522.06L719.28 522.06" stroke="#ff0000" stroke-width="2.3" fill="none"/><path d="M714.81 518.06L710.34 525.84L719.28 525.84Z" stroke="#ff0000" stroke-width="2.3" fill="none" stroke-linejoin="miter"/><circle cx="714.81" cy="523.60" r="1.15" fill="#ff0000"/>
<path d="M719.88 524.12L719.88 521.03M715.41 524.12L724.36 524.12M715.41 521.03L724.36 521.03" stroke="#ff0000" stroke-width="2.3" fill="none"/><path d="M719.88 517.03L715.41 524.81L724.36 524.81Z" stroke="#ff0000" stroke-width="2.3" fill="none" stroke-linejoin="miter"/><circle cx="719.88" cy="522.57" r="1.15" fill="#ff0000"/>
<path d="M724.96 523.09L724.96 520.00M720.49 523.09L729.43 523.09M720.49 520.00L729.43 520.00" stroke="#ff0000" stroke-width="2.3" fill="none"/><path d="M724.96 516.00L720.49 523.78L729.43 523.78Z" stroke="#ff0000" stroke-width="2.3" fill="none" stroke-linejoin="miter"/><circle cx="724.96" cy="521.54" r="1.15" fill="#ff0000"/>
<path d="M730.03 522.06L730.03 518.97M725.56 522.06L734.50 522.06M725.56 518.97L734.50 518.97" stroke="#ff0000" stroke-width="2.3" fill="none"/><path d="M730.03 514.97L725.56 522.75L734.50 522.75Z" stroke="#ff0000" stroke-width="2.3" fill="none" stroke-linejoin="miter"/><circle cx="730.03" cy="520.51" r="1.15" fill="#ff0000"/>
<path d="M735.11 520.77L735.11 517.68M730.64 520.77L739.58 520.77M730.64 517.68L739.58 517.68" stroke="#ff0000" stroke-width="2.3" fill="none"/><path d="M735.11 513.68L730.64 521.46L739.58 521.46Z" stroke="#ff0000" stroke-width="2.3" fill="none" stroke-linejoin="miter"/><circle cx="735.11" cy="519.23" r="1.15" fill="#ff0000"/>
<path d="M740.18 519.48L740.18 516.40M735.71 519.48L744.65 519.48M735.71 516.40L744.65 516.40" stroke="#ff0000" stroke-width="2.3" fill="none"/><path d="M740.18 512.40L735.71 520.18L744.65 520.18Z" stroke="#ff0000" stroke-width="2.3" fill="none" stroke-linejoin="miter"/><circle cx="740.18" cy="517.94" r="1.15" fill="#ff0000"/>
<path d="M745.26 518.20L745.26 515.11M740.79 518.20L749.73 518.20M740.79 515.11L749.73 515.11" stroke="#ff0000" stroke-width="2.3" fill="none"/><path d="M745.26 511.11L740.79 518.89L749.73 518.89Z" stroke="#ff0000" stroke-width="2.3" fill="none" stroke-linejoin="miter"/><circle cx="745.26" cy="516.65" r="1.15" fill="#ff0000"/>
<path d="M750.34 516.40L750.34 509.19M745.87 516.40L754.81 516.40M745.87 509.19L754.81 509.19" stroke="#ff0000" stroke-width="2.3" fill="none"/><path d="M750.34 507.25L745.87 515.03L754.81 515.03Z" stroke="#ff0000" stroke-width="2.3" fill="none" stroke-linejoin="miter"/><circle cx="750.34" cy="512.80" r="1.15" fill="#ff0000"/>
<path d="M755.41 511.87L755.41 481.46M750.94 511.87L759.88 511.87M750.94 481.46L759.88 481.46" stroke="#ff0000" stroke-width="2.3" fill="none"/><path d="M755.41 486.31L750.94 494.09L759.88 494.09Z" stroke="#ff0000" stroke-width="2.3" fill="none" stroke-linejoin="miter"/><circle cx="755.41" cy="491.86" r="1.15" fill="#ff0000"/>
<path d="M760.49 508.68L760.49 499.93M756.01 508.68L764.96 508.68M756.01 499.93L764.96 499.93" stroke="#ff0000" stroke-width="2.3" fill="none"/><path d="M760.49 498.71L756.01 506.49L764.96 506.49Z" stroke="#ff0000" stroke-width="2.3" fill="none" stroke-linejoin="miter"/><circle cx="760.49" cy="504.26" r="1.15" fill="#ff0000"/>
<path d="M765.56 486.97L765.56 465.56M761.09 486.97L770.03 486.97M761.09 465.56L770.03 465.56" stroke="#ff0000" stroke-width="2.3" fill="none"/><path d="M765.56 468.31L761.09 476.08L770.03 476.08Z" stroke="#ff0000" stroke-width="2.3" fill="none" stroke-linejoin="miter"/><circle cx="765.56" cy="473.85" r="1.15" fill="#ff0000"/>
<path d="M770.63 468.34L770.63 453.83M766.16 468.34L775.11 468.34M766.16 453.83L775.11 453.83" stroke="#ff0000" stroke-width="2.3" fill="none"/><path d="M770.63 455.29L766.16 463.07L775.11 463.07Z" stroke="#ff0000" stroke-width="2.3" fill="none" stroke-linejoin="miter"/><circle cx="770.63" cy="460.83" r="1.15" fill="#ff0000"/>
<path d="M775.71 467.52L775.71 455.69M771.24 467.52L780.18 467.52M771.24 455.69L780.18 455.69" stroke="#ff0000" stroke-width="2.3" fill="none"/><path d="M775.71 455.80L771.24 463.58L780.18 463.58Z" stroke="#ff0000" stroke-width="2.3" fill="none" stroke-linejoin="miter"/><circle cx="775.71" cy="461.35" r="1.15" fill="#ff0000"/>
<path d="M780.78 448.48L780.78 438.71M776.31 448.48L785.25 448.48M776.31 438.71L785.25 438.71" stroke="#ff0000" stroke-width="2.3" fill="none"/><path d="M780.78 437.80L776.31 445.57L785.25 445.57Z" stroke="#ff0000" stroke-width="2.3" fill="none" stroke-linejoin="miter"/><circle cx="780.78" cy="443.34" r="1.15" fill="#ff0000"/>
<path d="M785.86 431.50L785.86 420.70M781.39 431.50L790.33 431.50M781.39 420.70L790.33 420.70" stroke="#ff0000" stroke-width="2.3" fill="none"/><path d="M785.86 420.41L781.39 428.18L790.33 428.18Z" stroke="#ff0000" stroke-width="2.3" fill="none" stroke-linejoin="miter"/><circle cx="785.86" cy="425.95" r="1.15" fill="#ff0000"/>
<path d="M790.93 417.77L790.93 403.93M786.46 417.77L795.40 417.77M786.46 403.93L795.40 403.93" stroke="#ff0000" stroke-width="2.3" fill="none"/><path d="M790.93 404.66L786.46 412.44L795.40 412.44Z" stroke="#ff0000" stroke-width="2.3" fill="none" stroke-linejoin="miter"/><circle cx="790.93" cy="410.20" r="1.15" fill="#ff0000"/>
<path d="M547.34 546.70L552.41 543.97L557.49 540.89L562.56 538.88L567.63 538.01L572.71 537.23L577.78 536.46L582.86 535.85L587.93 535.18L593.01 534.15L598.09 533.12L603.16 531.83L608.24 530.55L613.31 529.05L618.38 527.46L623.46 525.56L628.53 523.39L633.61 520.51L638.68 517.99L643.76 514.85L648.84 511.72L653.91 507.65L658.99 503.53L664.06 498.49L669.13 493.45L674.21 486.56L679.28 473.33L684.36 443.34L689.43 403.93" stroke="#00ff00" stroke-width="2.3" fill="none" stroke-dasharray="5.84 2.92" stroke-linejoin="miter"/>
<path d="M547.34 551.07L547.34 542.33M542.87 551.07L551.81 551.07M542.87 542.33L551.81 542.33" stroke="#00ff00" stroke-width="2.3" fill="none"/><rect x="542.87" y="542.23" width="8.94" height="8.94" stroke="#00ff00" stroke-width="2.3" fill="none"/><circle cx="547.34" cy="546.70" r="1.15" fill="#00ff00"/>
<path d="M552.41 548.35L552.41 539.60M547.94 548.35L556.88 548.35M547.94 539.60L556.88 539.60" stroke="#00ff00" stroke-width="2.3" fill="none"/><rect x="547.94" y="539.50" width="8.94" height="8.94" stroke="#00ff00" stroke-width="2.3" fill="none"/><circle cx="552.41" cy="543.97" r="1.15" fill="#00ff00"/>
<path d="M557.49 545.26L557.49 536.51M553.01 545.26L561.96 545.26M553.01 536.51L561.96 536.51" stroke="#00ff00" stroke-width="2.3" fill="none"/><rect x="553.01" y="536.42" width="8.94" height="8.94" stroke="#00ff00" stroke-width="2.3" fill="none"/><circle cx="557.49" cy="540.89" r="1.15" fill="#00ff00"/>
<path d="M562.56 543.25L562.56 534.51M558.09 543.25L567.03 543.25M558.09 534.51L567.03 534.51" stroke="#00ff00" stroke-width="2.3" fill="none"/><rect x="558.09" y="534.41" width="8.94" height="8.94" stroke="#00ff00" stroke-width="2.3" fill="none"/><circle cx="562.56" cy="538.88" r="1.15" fill="#00ff00"/>
<path d="M567.63 542.38L567.63 533.63M563.16 542.38L572.11 542.38M563.16 533.63L572.11 533.63" stroke="#00ff00" stroke-width="2.3" fill="none"/><rect x="563.16" y="533.54" width="8.94" height="8.94" stroke="#00ff00" stroke-width="2.3" fill="none"/><circle cx="567.63" cy="538.01" r="1.15" fill="#00ff00"/>
<path d="M572.71 541.61L572.71 532.86M568.24 541.61L577.18 541.61M568.24 532.86L577.18 532.86" stroke="#00ff00" stroke-width="2.3" fill="none"/><rect x="568.24" y="532.76" width="8.94" height="8.94" stroke="#00ff00" stroke-width="2.3" fill="none"/><circle cx="572.71" cy="537.23" r="1.15" fill="#00ff00"/>
<path d="M577.78 540.84L577.78 532.09M573.31 540.84L582.25 540.84M573.31 532.09L582.25 532.09" stroke="#00ff00" stroke-width="2.3" fill="none"/><rect x="573.31" y="531.99" width="8.94" height="8.94" stroke="#00ff00" stroke-width="2.3" fill="none"/><circle cx="577.78" cy="536.46" r="1.15" fill="#00ff00"/>
<path d="M582.86 540.22L582.86 531.47M578.39 540.22L587.33 540.22M578.39 531.47L587.33 531.47" stroke="#00ff00" stroke-width="2.3" fill="none"/><rect x="578.39" y="531.38" width="8.94" height="8.94" stroke="#00ff00" stroke-width="2.3" fill="none"/><circle cx="582.86" cy="535.85" r="1.15" fill="#00ff00"/>
<path d="M587.93 539.55L587.93 530.80M583.46 539.55L592.40 539.55M583.46 530.80L592.40 530.80" stroke="#00ff00" stroke-width="2.3" fill="none"/><rect x="583.46" y="530.71" width="8.94" height="8.94" stroke="#00ff00" stroke-width="2.3" fill="none"/><circle cx="587.93" cy="535.18" r="1.15" fill="#00ff00"/>
<path d="M593.01 538.52L593.01 529.77M588.54 538.52L597.48 538.52M588.54 529.77L597.48 529.77" stroke="#00ff00" stroke-width="2.3" fill="none"/><rect x="588.54" y="529.68" width="8.94" height="8.94" stroke="#00ff00" stroke-width="2.3" fill="none"/><circle cx="593.01" cy="534.15" r="1.15" fill="#00ff00"/>
<path d="M598.09 537.49L598.09 528.75M593.62 537.49L602.56 537.49M593.62 528.75L602.56 528.75" stroke="#00ff00" stroke-width="2.3" fill="none"/><rect x="593.62" y="528.65" width="8.94" height="8.94" stroke="#00ff00" stroke-width="2.3" fill="none"/><circle cx="598.09" cy="533.12" r="1.15" fill="#00ff00"/>
<path d="M603.16 536.21L603.16 527.46M598.69 536.21L607.63 536.21M598.69 527.46L607.63 527.46" stroke="#00ff00" stroke-width="2.3" fill="none"/><rect x="598.69" y="527.36" width="8.94" height="8.94" stroke="#00ff00" stroke-width="2.3" fill="none"/><circle cx="603.16" cy="531.83" r="1.15" fill="#00ff00"/>
<path d="M608.24 534.92L608.24 526.17M603.76 534.92L612.71 534.92M603.76 526.17L612.71 526.17" stroke="#00ff00" stroke-width="2.3" fill="none"/><rect x="603.76" y="526.08" width="8.94" height="8.94" stroke="#00ff00" stroke-width="2.3" fill="none"/><circle cx="608.24" cy="530.55" r="1.15" fill="#00ff00"/>
<path d="M613.31 533.43L613.31 524.68M608.84 533.43L617.78 533.43M608.84 524.68L617.78 524.68" stroke="#00ff00" stroke-width="2.3" fill="none"/><rect x="608.84" y="524.58" width="8.94" height="8.94" stroke="#00ff00" stroke-width="2.3" fill="none"/><circle cx="613.31" cy="529.05" r="1.15" fill="#00ff00"/>
<path d="M618.38 531.83L618.38 523.09M613.91 531.83L622.86 531.83M613.91 523.09L622.86 523.09" stroke="#00ff00" stroke-width="2.3" fill="none"/><rect x="613.91" y="522.99" width="8.94" height="8.94" stroke="#00ff00" stroke-width="2.3" fill="none"/><circle cx="618.38" cy="527.46" r="1.15" fill="#00ff00"/>
<path d="M623.46 529.93L623.46 521.18M618.99 529.93L627.93 529.93M618.99 521.18L627.93 521.18" stroke="#00ff00" stroke-width="2.3" fill="none"/><rect x="618.99" y="521.09" width="8.94" height="8.94" stroke="#00ff00" stroke-width="2.3" fill="none"/><circle cx="623.46" cy="525.56" r="1.15" fill="#00ff00"/>
<path d="M628.53 527.77L628.53 519.02M624.06 527.77L633.00 527.77M624.06 519.02L633.00 519.02" stroke="#00ff00" stroke-width="2.3" fill="none"/><rect x="624.06" y="518.92" width="8.94" height="8.94" stroke="#00ff00" stroke-width="2.3" fill="none"/><circle cx="628.53" cy="523.39" r="1.15" fill="#00ff00"/>
<path d="M633.61 524.89L633.61 516.14M629.14 524.89L638.08 524.89M629.14 516.14L638.08 516.14" stroke="#00ff00" stroke-width="2.3" fill="none"/><rect x="629.14" y="516.04" width="8.94" height="8.94" stroke="#00ff00" stroke-width="2.3" fill="none"/><circle cx="633.61" cy="520.51" r="1.15" fill="#00ff00"/>
<path d="M638.68 522.37L638.68 513.62M634.21 522.37L643.15 522.37M634.21 513.62L643.15 513.62" stroke="#00ff00" stroke-width="2.3" fill="none"/><rect x="634.21" y="513.52" width="8.94" height="8.94" stroke="#00ff00" stroke-width="2.3" fill="none"/><circle cx="638.68" cy="517.99" r="1.15" fill="#00ff00"/>
<path d="M643.76 519.23L643.76 510.48M639.29 519.23L648.23 519.23M639.29 510.48L648.23 510.48" stroke="#00ff00" stroke-width="2.3" fill="none"/><rect x="639.29" y="510.38" width="8.94" height="8.94" stroke="#00ff00" stroke-width="2.3" fill="none"/><circle cx="643.76" cy="514.85" r="1.15" fill="#00ff00"/>
<path d="M648.84 516.09L648.84 507.34M644.37 516.09L653.31 516.09M644.37 507.34L653.31 507.34" stroke="#00ff00" stroke-width="2.3" fill="none"/><rect x="644.37" y="507.25" width="8.94" height="8.94" stroke="#00ff00" stroke-width="2.3" fill="none"/><circle cx="648.84" cy="511.72" r="1.15" fill="#00ff00"/>
<path d="M653.91 512.02L653.91 503.28M649.44 512.02L658.38 512.02M649.44 503.28L658.38 503.28" stroke="#00ff00" stroke-width="2.3" fill="none"/><rect x="649.44" y="503.18" width="8.94" height="8.94" stroke="#00ff00" stroke-width="2.3" fill="none"/><circle cx="653.91" cy="507.65" r="1.15" fill="#00ff00"/>
<path d="M658.99 507.91L658.99 499.16M654.51 507.91L663.46 507.91M654.51 499.16L663.46 499.16" stroke="#00ff00" stroke-width="2.3" fill="none"/><rect x="654.51" y="499.06" width="8.94" height="8.94" stroke="#00ff00" stroke-width="2.3" fill="none"/><circle cx="658.99" cy="503.53" r="1.15" fill="#00ff00"/>
<path d="M664.06 502.87L664.06 494.12M659.59 502.87L668.53 502.87M659.59 494.12L668.53 494.12" stroke="#00ff00" stroke-width="2.3" fill="none"/><rect x="659.59" y="494.02" width="8.94" height="8.94" stroke="#00ff00" stroke-width="2.3" fill="none"/><circle cx="664.06" cy="498.49" r="1.15" fill="#00ff00"/>
<path d="M669.13 497.82L669.13 489.08M664.66 497.82L673.61 497.82M664.66 489.08L673.61 489.08" stroke="#00ff00" stroke-width="2.3" fill="none"/><rect x="664.66" y="488.98" width="8.94" height="8.94" stroke="#00ff00" stroke-width="2.3" fill="none"/><circle cx="669.13" cy="493.45" r="1.15" fill="#00ff00"/>
<path d="M674.21 490.93L674.21 482.18M669.74 490.93L678.68 490.93M669.74 482.18L678.68 482.18" stroke="#00ff00" stroke-width="2.3" fill="none"/><rect x="669.74" y="482.09" width="8.94" height="8.94" stroke="#00ff00" stroke-width="2.3" fill="none"/><circle cx="674.21" cy="486.56" r="1.15" fill="#00ff00"/>
<path d="M679.28 477.71L679.28 468.96M674.81 477.71L683.75 477.71M674.81 468.96L683.75 468.96" stroke="#00ff00" stroke-width="2.3" fill="none"/><rect x="674.81" y="468.86" width="8.94" height="8.94" stroke="#00ff00" stroke-width="2.3" fill="none"/><circle cx="679.28" cy="473.33" r="1.15" fill="#00ff00"/>
<path d="M684.36 447.71L684.36 438.97M679.89 447.71L688.83 447.71M679.89 438.97L688.83 438.97" stroke="#00ff00" stroke-width="2.3" fill="none"/><rect x="679.89" y="438.87" width="8.94" height="8.94" stroke="#00ff00" stroke-width="2.3" fill="none"/><circle cx="684.36" cy="443.34" r="1.15" fill="#00ff00"/>
<path d="M689.43 408.30L689.43 399.55M684.96 408.30L693.90 408.30M684.96 399.55L693.90 399.55" stroke="#00ff00" stroke-width="2.3" fill="none"/><rect x="684.96" y="399.46" width="8.94" height="8.94" stroke="#00ff00" stroke-width="2.3" fill="none"/><circle cx="689.43" cy="403.93" r="1.15" fill="#00ff00"/>
<path d="M547.34 548.09L552.41 546.24L557.49 544.44L562.56 542.12L567.63 541.09L572.71 540.32L577.78 539.55L582.86 538.78L587.93 538.01L593.01 537.70L598.09 537.39L603.16 537.13L608.24 536.93L613.31 536.72L618.38 536.21L623.46 535.59L628.53 534.92L633.61 534.25L638.68 533.58L643.76 532.86L648.84 531.99L653.91 531.32L658.99 530.55L664.06 529.77L669.13 528.75L674.21 527.72L679.28 526.43L684.36 525.40L689.43 524.12L694.51 522.88L699.59 521.70L704.66 519.79L709.74 517.89L714.81 515.57L719.88 512.85L724.96 509.30L730.03 505.90L735.11 501.79L740.18 497.10L745.26 465.46L750.34 451.06L755.41 433.46L760.49 410.82" stroke="#0000ff" stroke-width="2.3" fill="none" stroke-dasharray="2.92 4.38"/>
<path d="M547.34 550.92L547.34 545.78M544.13 550.92L550.54 550.92M544.13 545.78L550.54 545.78" stroke="#0000ff" stroke-width="2.3" fill="none"/><circle cx="547.34" cy="548.09" r="4.47" stroke="#0000ff" stroke-width="2.3" fill="none"/><circle cx="547.34" cy="548.09" r="1.15" fill="#0000ff"/>
<path d="M552.41 549.07L552.41 543.92M549.21 549.07L555.61 549.07M549.21 543.92L555.61 543.92" stroke="#0000ff" stroke-width="2.3" fill="none"/><circle cx="552.41" cy="546.24" r="4.47" stroke="#0000ff" stroke-width="2.3" fill="none"/><circle cx="552.41" cy="546.24" r="1.15" fill="#0000ff"/>
<path d="M557.49 547.27L557.49 542.12M554.28 547.27L560.69 547.27M554.28 542.12L560.69 542.12" stroke="#0000ff" stroke-width="2.3" fill="none"/><circle cx="557.49" cy="544.44" r="4.47" stroke="#0000ff" stroke-width="2.3" fill="none"/><circle cx="557.49" cy="544.44" r="1.15" fill="#0000ff"/>
<path d="M562.56 544.95L562.56 539.81M559.36 544.95L565.76 544.95M559.36 539.81L565.76 539.81" stroke="#0000ff" stroke-width="2.3" fill="none"/><circle cx="562.56" cy="542.12" r="4.47" stroke="#0000ff" stroke-width="2.3" fill="none"/><circle cx="562.56" cy="542.12" r="1.15" fill="#0000ff"/>
<path d="M567.63 543.92L567.63 538.78M564.43 543.92L570.84 543.92M564.43 538.78L570.84 538.78" stroke="#0000ff" stroke-width="2.3" fill="none"/><circle cx="567.63" cy="541.09" r="4.47" stroke="#0000ff" stroke-width="2.3" fill="none"/><circle cx="567.63" cy="541.09" r="1.15" fill="#0000ff"/>
<path d="M572.71 543.15L572.71 538.01M569.51 543.15L575.91 543.15M569.51 538.01L575.91 538.01" stroke="#0000ff" stroke-width="2.3" fill="none"/><circle cx="572.71" cy="540.32" r="4.47" stroke="#0000ff" stroke-width="2.3" fill="none"/><circle cx="572.71" cy="540.32" r="1.15" fill="#0000ff"/>
<path d="M577.78 542.38L577.78 537.23M574.58 542.38L580.99 542.38M574.58 537.23L580.99 537.23" stroke="#0000ff" stroke-width="2.3" fill="none"/><circle cx="577.78" cy="539.55" r="4.47" stroke="#0000ff" stroke-width="2.3" fill="none"/><circle cx="577.78" cy="539.55" r="1.15" fill="#0000ff"/>
<path d="M582.86 541.61L582.86 536.46M579.66 541.61L586.06 541.61M579.66 536.46L586.06 536.46" stroke="#0000ff" stroke-width="2.3" fill="none"/><circle cx="582.86" cy="538.78" r="4.47" stroke="#0000ff" stroke-width="2.3" fill="none"/><circle cx="582.86" cy="538.78" r="1.15" fill="#0000ff"/>
<path d="M587.93 540.84L587.93 535.69M584.73 540.84L591.13 540.84M584.73 535.69L591.13 535.69" stroke="#0000ff" stroke-width="2.3" fill="none"/><circle cx="587.93" cy="538.01" r="4.47" stroke="#0000ff" stroke-width="2.3" fill="none"/><circle cx="587.93" cy="538.01" r="1.15" fill="#0000ff"/>
<path d="M593.01 540.53L593.01 535.38M589.81 540.53L596.21 540.53M589.81 535.38L596.21 535.38" stroke="#0000ff" stroke-width="2.3" fill="none"/><circle cx="593.01" cy="537.70" r="4.47" stroke="#0000ff" stroke-width="2.3" fill="none"/><circle cx="593.01" cy="537.70" r="1.15" fill="#0000ff"/>
<path d="M598.09 540.22L598.09 535.07M594.88 540.22L601.29 540.22M594.88 535.07L601.29 535.07" stroke="#0000ff" stroke-width="2.3" fill="none"/><circle cx="598.09" cy="537.39" r="4.47" stroke="#0000ff" stroke-width="2.3" fill="none"/><circle cx="598.09" cy="537.39" r="1.15" fill="#0000ff"/>
<path d="M603.16 539.96L603.16 534.82M599.96 539.96L606.36 539.96M599.96 534.82L606.36 534.82" stroke="#0000ff" stroke-width="2.3" fill="none"/><circle cx="603.16" cy="537.13" r="4.47" stroke="#0000ff" stroke-width="2.3" fill="none"/><circle cx="603.16" cy="537.13" r="1.15" fill="#0000ff"/>
<path d="M608.24 539.76L608.24 534.61M605.03 539.76L611.44 539.76M605.03 534.61L611.44 534.61" stroke="#0000ff" stroke-width="2.3" fill="none"/><circle cx="608.24" cy="536.93" r="4.47" stroke="#0000ff" stroke-width="2.3" fill="none"/><circle cx="608.24" cy="536.93" r="1.15" fill="#0000ff"/>
<path d="M613.31 539.55L613.31 534.40M610.11 539.55L616.51 539.55M610.11 534.40L616.51 534.40" stroke="#0000ff" stroke-width="2.3" fill="none"/><circle cx="613.31" cy="536.72" r="4.47" stroke="#0000ff" stroke-width="2.3" fill="none"/><circle cx="613.31" cy="536.72" r="1.15" fill="#0000ff"/>
<path d="M618.38 539.04L618.38 533.89M615.18 539.04L621.59 539.04M615.18 533.89L621.59 533.89" stroke="#0000ff" stroke-width="2.3" fill="none"/><circle cx="618.38" cy="536.21" r="4.47" stroke="#0000ff" stroke-width="2.3" fill="none"/><circle cx="618.38" cy="536.21" r="1.15" fill="#0000ff"/>
<path d="M623.46 538.42L623.46 533.27M620.26 538.42L626.66 538.42M620.26 533.27L626.66 533.27" stroke="#0000ff" stroke-width="2.3" fill="none"/><circle cx="623.46" cy="535.59" r="4.47" stroke="#0000ff" stroke-width="2.3" fill="none"/><circle cx="623.46" cy="535.59" r="1.15" fill="#0000ff"/>
<path d="M628.53 537.75L628.53 532.60M625.33 537.75L631.74 537.75M625.33 532.60L631.74 532.60" stroke="#0000ff" stroke-width="2.3" fill="none"/><circle cx="628.53" cy="534.92" r="4.47" stroke="#0000ff" stroke-width="2.3" fill="none"/><circle cx="628.53" cy="534.92" r="1.15" fill="#0000ff"/>
<path d="M633.61 537.08L633.61 531.94M630.41 537.08L636.81 537.08M630.41 531.94L636.81 531.94" stroke="#0000ff" stroke-width="2.3" fill="none"/><circle cx="633.61" cy="534.25" r="4.47" stroke="#0000ff" stroke-width="2.3" fill="none"/><circle cx="633.61" cy="534.25" r="1.15" fill="#0000ff"/>
<path d="M638.68 536.41L638.68 531.27M635.48 536.41L641.88 536.41M635.48 531.27L641.88 531.27" stroke="#0000ff" stroke-width="2.3" fill="none"/><circle cx="638.68" cy="533.58" r="4.47" stroke="#0000ff" stroke-width="2.3" fill="none"/><circle cx="638.68" cy="533.58" r="1.15" fill="#0000ff"/>
<path d="M643.76 535.69L643.76 530.55M640.56 535.69L646.96 535.69M640.56 530.55L646.96 530.55" stroke="#0000ff" stroke-width="2.3" fill="none"/><circle cx="643.76" cy="532.86" r="4.47" stroke="#0000ff" stroke-width="2.3" fill="none"/><circle cx="643.76" cy="532.86" r="1.15" fill="#0000ff"/>
<path d="M648.84 534.82L648.84 529.67M645.63 534.82L652.04 534.82M645.63 529.67L652.04 529.67" stroke="#0000ff" stroke-width="2.3" fill="none"/><circle cx="648.84" cy="531.99" r="4.47" stroke="#0000ff" stroke-width="2.3" fill="none"/><circle cx="648.84" cy="531.99" r="1.15" fill="#0000ff"/>
<path d="M653.91 534.15L653.91 529.00M650.71 534.15L657.11 534.15M650.71 529.00L657.11 529.00" stroke="#0000ff" stroke-width="2.3" fill="none"/><circle cx="653.91" cy="531.32" r="4.47" stroke="#0000ff" stroke-width="2.3" fill="none"/><circle cx="653.91" cy="531.32" r="1.15" fill="#0000ff"/>
<path d="M658.99 533.38L658.99 528.23M655.78 533.38L662.19 533.38M655.78 528.23L662.19 528.23" stroke="#0000ff" stroke-width="2.3" fill="none"/><circle cx="658.99" cy="530.55" r="4.47" stroke="#0000ff" stroke-width="2.3" fill="none"/><circle cx="658.99" cy="530.55" r="1.15" fill="#0000ff"/>
<path d="M664.06 532.60L664.06 527.46M660.86 532.60L667.26 532.60M660.86 527.46L667.26 527.46" stroke="#0000ff" stroke-width="2.3" fill="none"/><circle cx="664.06" cy="529.77" r="4.47" stroke="#0000ff" stroke-width="2.3" fill="none"/><circle cx="664.06" cy="529.77" r="1.15" fill="#0000ff"/>
<path d="M669.13 531.58L669.13 526.43M665.93 531.58L672.34 531.58M665.93 526.43L672.34 526.43" stroke="#0000ff" stroke-width="2.3" fill="none"/><circle cx="669.13" cy="528.75" r="4.47" stroke="#0000ff" stroke-width="2.3" fill="none"/><circle cx="669.13" cy="528.75" r="1.15" fill="#0000ff"/>
<path d="M674.21 530.55L674.21 525.40M671.01 530.55L677.41 530.55M671.01 525.40L677.41 525.40" stroke="#0000ff" stroke-width="2.3" fill="none"/><circle cx="674.21" cy="527.72" r="4.47" stroke="#0000ff" stroke-width="2.3" fill="none"/><circle cx="674.21" cy="527.72" r="1.15" fill="#0000ff"/>
<path d="M679.28 529.26L679.28 524.12M676.08 529.26L682.49 529.26M676.08 524.12L682.49 524.12" stroke="#0000ff" stroke-width="2.3" fill="none"/><circle cx="679.28" cy="526.43" r="4.47" stroke="#0000ff" stroke-width="2.3" fill="none"/><circle cx="679.28" cy="526.43" r="1.15" fill="#0000ff"/>
<path d="M684.36 528.23L684.36 523.09M681.16 528.23L687.56 528.23M681.16 523.09L687.56 523.09" stroke="#0000ff" stroke-width="2.3" fill="none"/><circle cx="684.36" cy="525.40" r="4.47" stroke="#0000ff" stroke-width="2.3" fill="none"/><circle cx="684.36" cy="525.40" r="1.15" fill="#0000ff"/>
<path d="M689.43 526.94L689.43 521.80M686.23 526.94L692.63 526.94M686.23 521.80L692.63 521.80" stroke="#0000ff" stroke-width="2.3" fill="none"/><circle cx="689.43" cy="524.12" r="4.47" stroke="#0000ff" stroke-width="2.3" fill="none"/><circle cx="689.43" cy="524.12" r="1.15" fill="#0000ff"/>
<path d="M694.51 525.71L694.51 520.56M691.31 525.71L697.71 525.71M691.31 520.56L697.71 520.56" stroke="#0000ff" stroke-width="2.3" fill="none"/><circle cx="694.51" cy="522.88" r="4.47" stroke="#0000ff" stroke-width="2.3" fill="none"/><circle cx="694.51" cy="522.88" r="1.15" fill="#0000ff"/>
<path d="M699.59 524.53L699.59 519.38M696.38 524.53L702.79 524.53M696.38 519.38L702.79 519.38" stroke="#0000ff" stroke-width="2.3" fill="none"/><circle cx="699.59" cy="521.70" r="4.47" stroke="#0000ff" stroke-width="2.3" fill="none"/><circle cx="699.59" cy="521.70" r="1.15" fill="#0000ff"/>
<path d="M704.66 522.62L704.66 517.48M701.46 522.62L707.86 522.62M701.46 517.48L707.86 517.48" stroke="#0000ff" stroke-width="2.3" fill="none"/><circle cx="704.66" cy="519.79" r="4.47" stroke="#0000ff" stroke-width="2.3" fill="none"/><circle cx="704.66" cy="519.79" r="1.15" fill="#0000ff"/>
<path d="M709.74 520.72L709.74 515.57M706.53 520.72L712.94 520.72M706.53 515.57L712.94 515.57" stroke="#0000ff" stroke-width="2.3" fill="none"/><circle cx="709.74" cy="517.89" r="4.47" stroke="#0000ff" stroke-width="2.3" fill="none"/><circle cx="709.74" cy="517.89" r="1.15" fill="#0000ff"/>
<path d="M714.81 518.40L714.81 513.26M711.61 518.40L718.01 518.40M711.61 513.26L718.01 513.26" stroke="#0000ff" stroke-width="2.3" fill="none"/><circle cx="714.81" cy="515.57" r="4.47" stroke="#0000ff" stroke-width="2.3" fill="none"/><circle cx="714.81" cy="515.57" r="1.15" fill="#0000ff"/>
<path d="M719.88 515.68L719.88 510.53M716.68 515.68L723.09 515.68M716.68 510.53L723.09 510.53" stroke="#0000ff" stroke-width="2.3" fill="none"/><circle cx="719.88" cy="512.85" r="4.47" stroke="#0000ff" stroke-width="2.3" fill="none"/><circle cx="719.88" cy="512.85" r="1.15" fill="#0000ff"/>
<path d="M724.96 512.13L724.96 506.98M721.76 512.13L728.16 512.13M721.76 506.98L728.16 506.98" stroke="#0000ff" stroke-width="2.3" fill="none"/><circle cx="724.96" cy="509.30" r="4.47" stroke="#0000ff" stroke-width="2.3" fill="none"/><circle cx="724.96" cy="509.30" r="1.15" fill="#0000ff"/>
<path d="M730.03 508.73L730.03 503.59M726.83 508.73L733.24 508.73M726.83 503.59L733.24 503.59" stroke="#0000ff" stroke-width="2.3" fill="none"/><circle cx="730.03" cy="505.90" r="4.47" stroke="#0000ff" stroke-width="2.3" fill="none"/><circle cx="730.03" cy="505.90" r="1.15" fill="#0000ff"/>
<path d="M735.11 504.62L735.11 499.47M731.91 504.62L738.31 504.62M731.91 499.47L738.31 499.47" stroke="#0000ff" stroke-width="2.3" fill="none"/><circle cx="735.11" cy="501.79" r="4.47" stroke="#0000ff" stroke-width="2.3" fill="none"/><circle cx="735.11" cy="501.79" r="1.15" fill="#0000ff"/>
<path d="M740.18 499.93L740.18 494.79M736.98 499.93L743.38 499.93M736.98 494.79L743.38 494.79" stroke="#0000ff" stroke-width="2.3" fill="none"/><circle cx="740.18" cy="497.10" r="4.47" stroke="#0000ff" stroke-width="2.3" fill="none"/><circle cx="740.18" cy="497.10" r="1.15" fill="#0000ff"/>
<path d="M745.26 471.48L745.26 460.78M740.79 471.48L749.73 471.48M740.79 460.78L749.73 460.78" stroke="#0000ff" stroke-width="2.3" fill="none" stroke-dasharray="2.92 4.38"/><circle cx="745.26" cy="465.46" r="4.47" stroke="#0000ff" stroke-width="2.3" fill="none"/><circle cx="745.26" cy="465.46" r="1.15" fill="#0000ff"/>
<path d="M750.34 457.08L750.34 446.37M745.87 457.08L754.81 457.08M745.87 446.37L754.81 446.37" stroke="#0000ff" stroke-width="2.3" fill="none" stroke-dasharray="2.92 4.38"/><circle cx="750.34" cy="451.06" r="4.47" stroke="#0000ff" stroke-width="2.3" fill="none"/><circle cx="750.34" cy="451.06" r="1.15" fill="#0000ff"/>
<path d="M755.41 439.48L755.41 428.78M750.94 439.48L759.88 439.48M750.94 428.78L759.88 428.78" stroke="#0000ff" stroke-width="2.3" fill="none" stroke-dasharray="2.92 4.38"/><circle cx="755.41" cy="433.46" r="4.47" stroke="#0000ff" stroke-width="2.3" fill="none"/><circle cx="755.41" cy="433.46" r="1.15" fill="#0000ff"/>
<path d="M760.49 416.84L760.49 406.14M756.01 416.84L764.96 416.84M756.01 406.14L764.96 406.14" stroke="#0000ff" stroke-width="2.3" fill="none" stroke-dasharray="2.92 4.38"/><circle cx="760.49" cy="410.82" r="4.47" stroke="#0000ff" stroke-width="2.3" fill="none"/><circle cx="760.49" cy="410.82" r="1.15" fill="#0000ff"/>
<path d="M547.34 554.16L552.41 545.36L557.49 535.90L562.56 525.25L567.63 513.26L572.71 499.78L577.78 488.87L582.86 475.55L587.93 463.97L593.01 451.26L598.09 437.27L603.16 422.86L608.24 410.26L613.31 395.75L618.38 388.80" stroke="#ff00ff" stroke-width="2.3" fill="none" stroke-dasharray="1.75 1.90" stroke-linejoin="miter"/>
<path d="M542.87 549.69L551.81 558.63M542.87 558.63L551.81 549.69" stroke="#ff00ff" stroke-width="2.3" fill="none"/>
<path d="M547.94 540.89L556.88 549.83M547.94 549.83L556.88 540.89" stroke="#ff00ff" stroke-width="2.3" fill="none"/>
<path d="M553.01 531.43L561.96 540.37M553.01 540.37L561.96 531.43" stroke="#ff00ff" stroke-width="2.3" fill="none"/>
<path d="M558.09 520.78L567.03 529.72M558.09 529.72L567.03 520.78" stroke="#ff00ff" stroke-width="2.3" fill="none"/>
<path d="M563.16 508.79L572.11 517.73M563.16 517.73L572.11 508.79" stroke="#ff00ff" stroke-width="2.3" fill="none"/>
<path d="M568.24 495.31L577.18 504.25M568.24 504.25L577.18 495.31" stroke="#ff00ff" stroke-width="2.3" fill="none"/>
<path d="M573.31 484.40L582.25 493.34M573.31 493.34L582.25 484.40" stroke="#ff00ff" stroke-width="2.3" fill="none"/>
<path d="M578.39 471.08L587.33 480.02M578.39 480.02L587.33 471.08" stroke="#ff00ff" stroke-width="2.3" fill="none"/>
<path d="M583.46 459.50L592.40 468.44M583.46 468.44L592.40 459.50" stroke="#ff00ff" stroke-width="2.3" fill="none"/>
<path d="M588.54 446.79L597.48 455.73M588.54 455.73L597.48 446.79" stroke="#ff00ff" stroke-width="2.3" fill="none"/>
<path d="M593.62 432.80L602.56 441.74M593.62 441.74L602.56 432.80" stroke="#ff00ff" stroke-width="2.3" fill="none"/>
<path d="M598.69 418.39L607.63 427.33M598.69 427.33L607.63 418.39" stroke="#ff00ff" stroke-width="2.3" fill="none"/>
<path d="M603.76 405.79L612.71 414.73M603.76 414.73L612.71 405.79" stroke="#ff00ff" stroke-width="2.3" fill="none"/>
<path d="M608.84 391.28L617.78 400.22M608.84 400.22L617.78 391.28" stroke="#ff00ff" stroke-width="2.3" fill="none"/>
<path d="M613.91 384.33L622.86 393.27M613.91 393.27L622.86 384.33" stroke="#ff00ff" stroke-width="2.3" fill="none"/>
<path d="M543.79 549.76L543.79 558.56M550.88 549.76L550.88 558.56" stroke="#ff00ff" stroke-width="2.0" fill="none"/>
<path d="M548.86 540.96L548.86 549.76M555.96 540.96L555.96 549.76" stroke="#ff00ff" stroke-width="2.0" fill="none"/>
<path d="M553.94 531.50L553.94 540.30M561.03 531.50L561.03 540.30" stroke="#ff00ff" stroke-width="2.0" fill="none"/>
<path d="M559.01 520.85L559.01 529.65M566.11 520.85L566.11 529.65" stroke="#ff00ff" stroke-width="2.0" fill="none"/>
<path d="M564.09 508.86L564.09 517.66M571.18 508.86L571.18 517.66" stroke="#ff00ff" stroke-width="2.0" fill="none"/>
<path d="M569.16 495.38L569.16 504.18M576.26 495.38L576.26 504.18" stroke="#ff00ff" stroke-width="2.0" fill="none"/>
<path d="M574.24 484.47L574.24 493.27M581.33 484.47L581.33 493.27" stroke="#ff00ff" stroke-width="2.0" fill="none"/>
<path d="M579.31 471.15L579.31 479.95M586.41 471.15L586.41 479.95" stroke="#ff00ff" stroke-width="2.0" fill="none"/>
<path d="M584.38 459.57L584.38 468.37M591.48 459.57L591.48 468.37" stroke="#ff00ff" stroke-width="2.0" fill="none"/>
<path d="M589.46 446.86L589.46 455.66M596.56 446.86L596.56 455.66" stroke="#ff00ff" stroke-width="2.0" fill="none"/>
<path d="M594.54 432.87L594.54 441.67M601.63 432.87L601.63 441.67" stroke="#ff00ff" stroke-width="2.0" fill="none"/>
<path d="M599.61 418.46L599.61 427.26M606.71 418.46L606.71 427.26" stroke="#ff00ff" stroke-width="2.0" fill="none"/>
<path d="M604.69 405.86L604.69 414.66M611.78 405.86L611.78 414.66" stroke="#ff00ff" stroke-width="2.0" fill="none"/>
<path d="M609.76 391.35L609.76 400.15M616.86 391.35L616.86 400.15" stroke="#ff00ff" stroke-width="2.0" fill="none"/>
<path d="M614.84 384.40L614.84 393.20M621.93 384.40L621.93 393.20" stroke="#ff00ff" stroke-width="2.0" fill="none"/>
</g>
<rect x="542.26" y="385.00" width="253.74" height="206.05" fill="none" stroke="#000" stroke-width="1.85"/>
<text x="543.86" y="618.65" text-anchor="middle" font-family="Liberation Sans, sans-serif" font-size="20.5" fill="#000">0</text>
<text x="594.61" y="618.65" text-anchor="middle" font-family="Liberation Sans, sans-serif" font-size="20.5" fill="#000">0.1</text>
<text x="645.36" y="618.65" text-anchor="middle" font-family="Liberation Sans, sans-serif" font-size="20.5" fill="#000">0.2</text>
<text x="696.11" y="618.65" text-anchor="middle" font-family="Liberation Sans, sans-serif" font-size="20.5" fill="#000">0.3</text>
<text x="746.86" y="618.65" text-anchor="middle" font-family="Liberation Sans, sans-serif" font-size="20.5" fill="#000">0.4</text>
<text x="797.61" y="618.65" text-anchor="middle" font-family="Liberation Sans, sans-serif" font-size="20.5" fill="#000">0.5</text>
<text x="530.26" y="597.80" text-anchor="end" font-family="Liberation Sans, sans-serif" font-size="20.5" fill="#000">1</text>
<text x="530.26" y="546.35" text-anchor="end" font-family="Liberation Sans, sans-serif" font-size="20.5" fill="#000">10</text>
<text x="530.26" y="494.90" text-anchor="end" font-family="Liberation Sans, sans-serif" font-size="20.5" fill="#000">100</text>
<text x="530.26" y="443.45" text-anchor="end" font-family="Liberation Sans, sans-serif" font-size="20.5" fill="#000">1000</text>
<text x="530.26" y="392.00" text-anchor="end" font-family="Liberation Sans, sans-serif" font-size="20.5" fill="#000">10000</text>
<text x="669.13" y="649.05" text-anchor="middle" font-family="Liberation Sans, sans-serif" font-size="20.3" fill="#000">patterns per synapse &#945;</text>
<text transform="translate(442.30 488.02) rotate(-90)" text-anchor="middle" font-family="Liberation Sans, sans-serif" font-size="20.5" fill="#000">presentations per pattern T</text>
<text x="456.70" y="356.30" text-anchor="start" font-family="Liberation Serif, sans-serif" font-size="29.5" fill="#000">D</text>
</g>
</svg></body></html>
